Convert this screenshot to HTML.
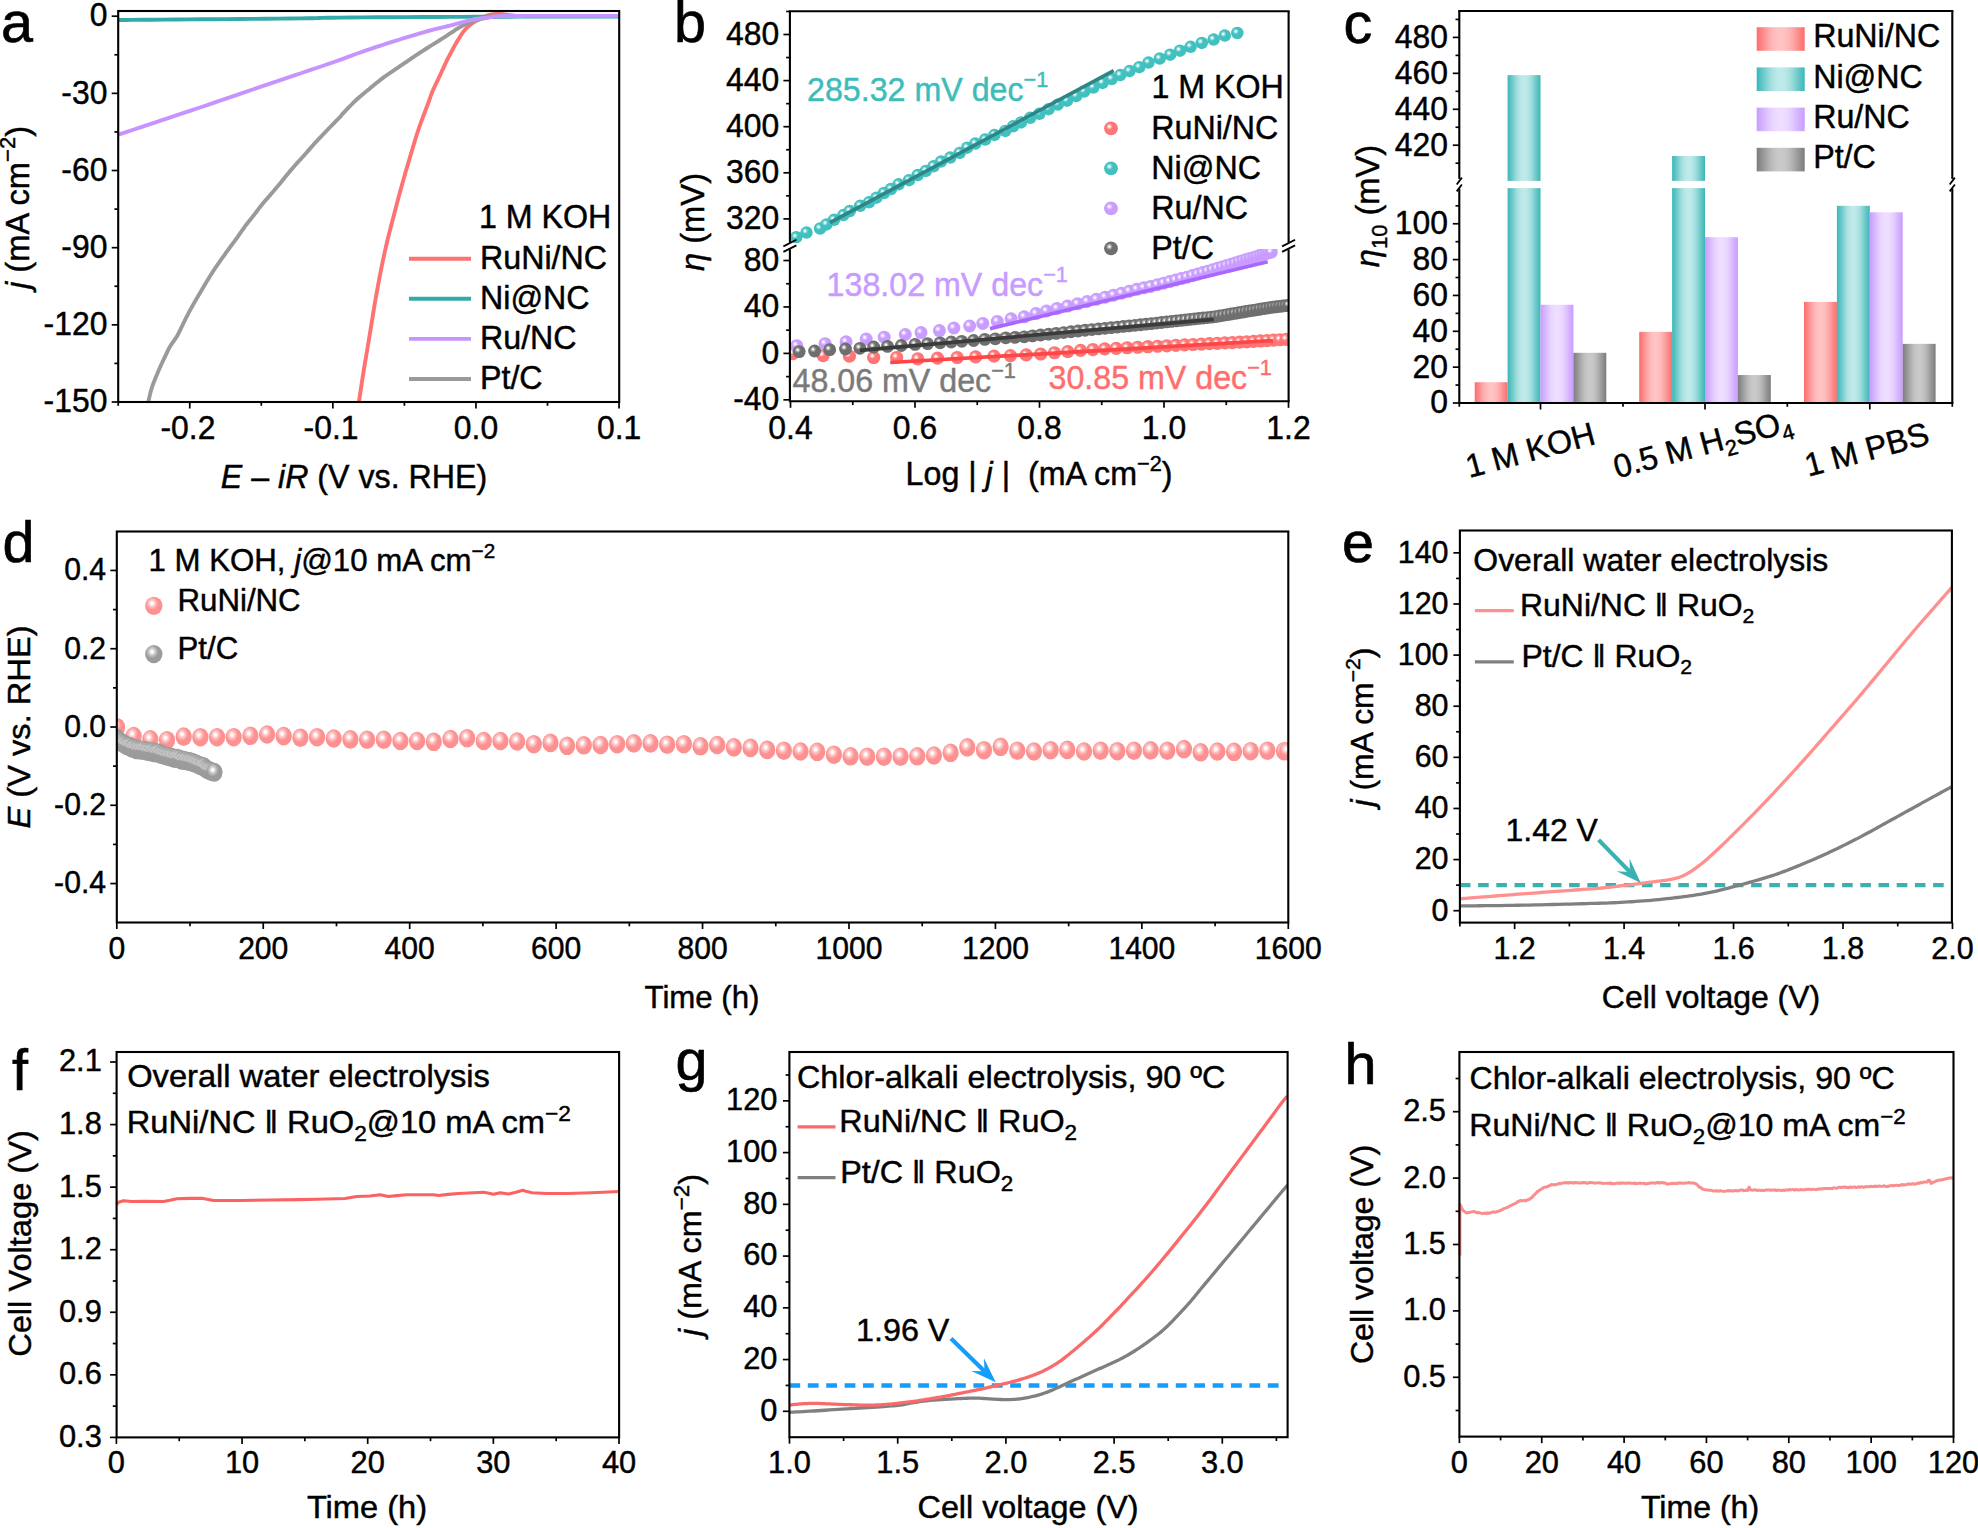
<!DOCTYPE html>
<html lang="en"><head><meta charset="utf-8"><title>Figure</title>
<style>html,body{margin:0;padding:0;background:#fff;}body{width:1978px;height:1528px;overflow:hidden;}svg text{font-family:"Liberation Sans", Arial, Helvetica, sans-serif;}</style>
</head><body>
<svg width="1978" height="1528" viewBox="0 0 1978 1528" font-family='"Liberation Sans", Arial, Helvetica, sans-serif' style="display:block">
<defs>
<radialGradient id="sR" cx="0.38" cy="0.37" r="0.5" fx="0.38" fy="0.37"><stop offset="0" stop-color="#fff"/><stop offset="0.08" stop-color="#fff"/><stop offset="0.25" stop-color="#ffb5b5"/><stop offset="0.5" stop-color="#ff7474"/><stop offset="1" stop-color="#ff7474"/></radialGradient>
<radialGradient id="sT" cx="0.38" cy="0.37" r="0.5" fx="0.38" fy="0.37"><stop offset="0" stop-color="#fff"/><stop offset="0.08" stop-color="#fff"/><stop offset="0.25" stop-color="#9adddd"/><stop offset="0.5" stop-color="#41c0c0"/><stop offset="1" stop-color="#41c0c0"/></radialGradient>
<radialGradient id="sP" cx="0.38" cy="0.37" r="0.5" fx="0.38" fy="0.37"><stop offset="0" stop-color="#fff"/><stop offset="0.08" stop-color="#fff"/><stop offset="0.25" stop-color="#e2caff"/><stop offset="0.5" stop-color="#c99dff"/><stop offset="1" stop-color="#c99dff"/></radialGradient>
<radialGradient id="sG" cx="0.38" cy="0.37" r="0.5" fx="0.38" fy="0.37"><stop offset="0" stop-color="#fff"/><stop offset="0.08" stop-color="#fff"/><stop offset="0.25" stop-color="#b0b0b0"/><stop offset="0.5" stop-color="#6e6e6e"/><stop offset="1" stop-color="#6e6e6e"/></radialGradient>
<radialGradient id="sR2" cx="0.40" cy="0.37" r="0.5" fx="0.40" fy="0.37"><stop offset="0" stop-color="#fff"/><stop offset="0.12" stop-color="#fff"/><stop offset="0.36" stop-color="#fec6c6"/><stop offset="0.72" stop-color="#fd9191"/><stop offset="1" stop-color="#fd9191"/></radialGradient>
<radialGradient id="sG2" cx="0.40" cy="0.37" r="0.5" fx="0.40" fy="0.37"><stop offset="0" stop-color="#fff"/><stop offset="0.12" stop-color="#fff"/><stop offset="0.36" stop-color="#cbcbcb"/><stop offset="0.72" stop-color="#9b9b9b"/><stop offset="1" stop-color="#9b9b9b"/></radialGradient>
<linearGradient id="bR" x1="0" x2="1" y1="0" y2="0"><stop offset="0.00" stop-color="#fa6e6e"/><stop offset="0.08" stop-color="#fb8080"/><stop offset="0.17" stop-color="#fc9595"/><stop offset="0.25" stop-color="#fda8a8"/><stop offset="0.33" stop-color="#feb7b7"/><stop offset="0.42" stop-color="#ffc1c1"/><stop offset="0.50" stop-color="#ffc4c4"/><stop offset="0.58" stop-color="#ffc1c1"/><stop offset="0.67" stop-color="#feb7b7"/><stop offset="0.75" stop-color="#fda8a8"/><stop offset="0.83" stop-color="#fc9595"/><stop offset="0.92" stop-color="#fb8080"/><stop offset="1.00" stop-color="#fa6e6e"/></linearGradient>
<linearGradient id="bT" x1="0" x2="1" y1="0" y2="0"><stop offset="0.00" stop-color="#3cb6b6"/><stop offset="0.08" stop-color="#58c1c1"/><stop offset="0.17" stop-color="#77cdcd"/><stop offset="0.25" stop-color="#95d9d9"/><stop offset="0.33" stop-color="#ace2e2"/><stop offset="0.42" stop-color="#bbe8e8"/><stop offset="0.50" stop-color="#c0eaea"/><stop offset="0.58" stop-color="#bbe8e8"/><stop offset="0.67" stop-color="#ace2e2"/><stop offset="0.75" stop-color="#95d9d9"/><stop offset="0.83" stop-color="#77cdcd"/><stop offset="0.92" stop-color="#58c1c1"/><stop offset="1.00" stop-color="#3cb6b6"/></linearGradient>
<linearGradient id="bP" x1="0" x2="1" y1="0" y2="0"><stop offset="0.00" stop-color="#c89cff"/><stop offset="0.08" stop-color="#d0aaff"/><stop offset="0.17" stop-color="#dabaff"/><stop offset="0.25" stop-color="#e2c9ff"/><stop offset="0.33" stop-color="#e9d5ff"/><stop offset="0.42" stop-color="#eddcff"/><stop offset="0.50" stop-color="#efdfff"/><stop offset="0.58" stop-color="#eddcff"/><stop offset="0.67" stop-color="#e9d5ff"/><stop offset="0.75" stop-color="#e2c9ff"/><stop offset="0.83" stop-color="#dabaff"/><stop offset="0.92" stop-color="#d0aaff"/><stop offset="1.00" stop-color="#c89cff"/></linearGradient>
<linearGradient id="bG" x1="0" x2="1" y1="0" y2="0"><stop offset="0.00" stop-color="#7c7c7c"/><stop offset="0.08" stop-color="#8c8c8c"/><stop offset="0.17" stop-color="#9f9f9f"/><stop offset="0.25" stop-color="#b0b0b0"/><stop offset="0.33" stop-color="#bebebe"/><stop offset="0.42" stop-color="#c7c7c7"/><stop offset="0.50" stop-color="#cacaca"/><stop offset="0.58" stop-color="#c7c7c7"/><stop offset="0.67" stop-color="#bebebe"/><stop offset="0.75" stop-color="#b0b0b0"/><stop offset="0.83" stop-color="#9f9f9f"/><stop offset="0.92" stop-color="#8c8c8c"/><stop offset="1.00" stop-color="#7c7c7c"/></linearGradient>
</defs>
<rect width="1978" height="1528" fill="#fff"/>
<g>
<clipPath id="ca"><rect x="118.2" y="11.0" width="501.00000000000006" height="391.0"/></clipPath>
<g clip-path="url(#ca)">
<polyline points="358.9,402 359.25,399.67 359.72,396.61 360.27,392.98 360.88,388.91 361.54,384.57 362.23,380.1 362.92,375.66 363.6,371.4 364.28,367.2 364.99,362.89 365.73,358.47 366.48,353.99 367.24,349.48 368,344.96 368.76,340.45 369.5,336 370.23,331.56 370.95,327.09 371.68,322.6 372.4,318.12 373.12,313.68 373.85,309.28 374.57,304.94 375.3,300.7 376.03,296.53 376.77,292.39 377.51,288.31 378.24,284.29 378.98,280.33 379.72,276.44 380.46,272.63 381.2,268.9 381.93,265.27 382.66,261.75 383.39,258.31 384.12,254.93 384.85,251.61 385.59,248.32 386.34,245.06 387.1,241.8 387.88,238.55 388.68,235.32 389.49,232.12 390.3,228.96 391.11,225.83 391.92,222.74 392.72,219.69 393.5,216.7 394.26,213.76 395.01,210.88 395.75,208.05 396.48,205.26 397.21,202.49 397.94,199.75 398.67,197.02 399.4,194.3 400.14,191.58 400.88,188.89 401.61,186.21 402.35,183.55 403.09,180.91 403.82,178.29 404.56,175.68 405.3,173.1 406.04,170.54 406.77,168.02 407.5,165.52 408.24,163.03 408.97,160.55 409.71,158.08 410.45,155.6 411.2,153.1 411.96,150.56 412.72,147.99 413.49,145.39 414.26,142.8 415.03,140.24 415.8,137.74 416.56,135.32 417.3,133 418.03,130.8 418.75,128.69 419.47,126.66 420.18,124.69 420.88,122.76 421.58,120.85 422.29,118.93 423,117 423.73,115.02 424.49,112.99 425.25,110.96 426.01,108.95 426.75,107 427.46,105.13 428.11,103.39 428.7,101.8 429.21,100.39 429.64,99.15 430.02,98.02 430.36,96.99 430.69,96 431.03,95.04 431.39,94.05 431.8,93 432.25,91.91 432.72,90.83 433.2,89.74 433.7,88.66 434.2,87.59 434.71,86.52 435.21,85.45 435.7,84.4 436.19,83.36 436.67,82.33 437.16,81.32 437.64,80.31 438.13,79.29 438.62,78.28 439.11,77.25 439.6,76.2 440.1,75.13 440.6,74.05 441.1,72.96 441.6,71.86 442.1,70.76 442.6,69.66 443.1,68.57 443.6,67.5 444.1,66.43 444.59,65.36 445.09,64.28 445.58,63.22 446.07,62.17 446.56,61.15 447.03,60.15 447.5,59.2 447.96,58.3 448.4,57.44 448.83,56.62 449.26,55.82 449.69,55.03 450.12,54.24 450.56,53.43 451,52.6 451.45,51.74 451.91,50.87 452.36,49.99 452.82,49.1 453.29,48.21 453.76,47.33 454.23,46.46 454.7,45.6 455.18,44.75 455.67,43.9 456.17,43.05 456.66,42.21 457.16,41.38 457.65,40.56 458.13,39.77 458.6,39 459.05,38.26 459.49,37.54 459.92,36.83 460.34,36.15 460.76,35.48 461.19,34.81 461.64,34.16 462.1,33.5 462.58,32.84 463.09,32.18 463.6,31.53 464.12,30.89 464.64,30.26 465.17,29.65 465.69,29.06 466.2,28.5 466.7,27.97 467.2,27.46 467.7,26.98 468.2,26.51 468.7,26.06 469.2,25.63 469.7,25.21 470.2,24.8 470.71,24.4 471.22,24.02 471.73,23.66 472.25,23.31 472.77,22.97 473.28,22.64 473.79,22.32 474.3,22 474.8,21.7 475.3,21.41 475.8,21.13 476.3,20.86 476.8,20.59 477.3,20.33 477.8,20.07 478.3,19.8 478.81,19.53 479.32,19.26 479.83,18.99 480.35,18.73 480.87,18.46 481.38,18.2 481.89,17.95 482.4,17.7 482.9,17.46 483.41,17.21 483.91,16.98 484.41,16.74 484.9,16.52 485.4,16.3 485.9,16.09 486.4,15.9 486.9,15.72 487.4,15.54 487.9,15.38 488.39,15.22 488.89,15.08 489.39,14.94 489.9,14.82 490.4,14.7 490.91,14.59 491.42,14.5 491.93,14.41 492.45,14.34 492.97,14.27 493.48,14.21 493.99,14.15 494.5,14.1 495,14.05 495.5,14.01 496,13.97 496.5,13.94 497,13.92 497.5,13.91 498,13.9 498.5,13.9 499.01,13.91 499.52,13.94 500.03,13.97 500.55,14.01 501.07,14.05 501.58,14.1 502.09,14.15 502.6,14.2 503.1,14.25 503.6,14.31 504.1,14.37 504.6,14.43 505.1,14.5 505.6,14.56 506.1,14.63 506.6,14.7 507.11,14.77 507.62,14.85 508.13,14.93 508.65,15.01 509.17,15.09 509.68,15.16 510.19,15.23 510.7,15.3 511.18,15.36 511.63,15.42 512.06,15.47 512.5,15.52 512.96,15.57 513.47,15.61 514.04,15.66 514.7,15.7 514.84,15.74 514.19,15.79 513.25,15.83 512.53,15.87 512.53,15.91 513.78,15.95 516.76,15.98 522,16 530.51,16.01 542.26,16.02 556.14,16.02 571.06,16.02 585.92,16.01 599.63,16.01 611.09,16 619.2,16" fill="none" stroke="#ff7272" stroke-width="3.9" stroke-linejoin="round" stroke-linecap="butt" />
<polyline points="148.3,402 148.55,400.92 148.86,399.5 149.22,397.82 149.64,395.93 150.11,393.92 150.63,391.84 151.2,389.78 151.8,387.8 152.47,385.82 153.23,383.75 154.04,381.62 154.9,379.47 155.77,377.32 156.65,375.23 157.5,373.21 158.3,371.3 159.07,369.51 159.82,367.8 160.56,366.15 161.29,364.56 162.02,363 162.75,361.46 163.47,359.94 164.2,358.4 164.92,356.86 165.63,355.34 166.33,353.84 167.03,352.36 167.73,350.89 168.46,349.44 169.21,348.01 170,346.6 170.83,345.23 171.71,343.89 172.62,342.59 173.54,341.3 174.47,340.01 175.38,338.71 176.26,337.37 177.1,336 177.89,334.58 178.66,333.13 179.4,331.66 180.12,330.17 180.84,328.68 181.55,327.18 182.27,325.68 183,324.2 183.74,322.72 184.47,321.22 185.21,319.72 185.95,318.22 186.69,316.74 187.43,315.27 188.16,313.82 188.9,312.4 189.64,311.01 190.38,309.65 191.11,308.31 191.85,306.99 192.59,305.68 193.33,304.38 194.06,303.09 194.8,301.8 195.54,300.52 196.28,299.26 197.01,298.01 197.75,296.76 198.49,295.52 199.22,294.29 199.96,293.05 200.7,291.8 201.44,290.55 202.18,289.29 202.92,288.02 203.66,286.76 204.39,285.51 205.13,284.26 205.87,283.02 206.6,281.8 207.33,280.59 208.05,279.39 208.78,278.2 209.5,277.02 210.22,275.85 210.95,274.69 211.67,273.54 212.4,272.4 213.13,271.27 213.87,270.15 214.61,269.03 215.34,267.93 216.08,266.84 216.82,265.75 217.56,264.67 218.3,263.6 219.04,262.54 219.78,261.49 220.51,260.45 221.25,259.41 221.99,258.38 222.72,257.36 223.46,256.33 224.2,255.3 224.94,254.27 225.67,253.24 226.41,252.2 227.15,251.18 227.89,250.15 228.62,249.13 229.36,248.11 230.1,247.1 230.81,246.14 231.49,245.24 232.15,244.36 232.83,243.48 233.52,242.56 234.27,241.56 235.09,240.45 236,239.2 237.02,237.76 238.15,236.15 239.34,234.42 240.59,232.62 241.85,230.8 243.11,229.01 244.34,227.29 245.5,225.7 246.61,224.23 247.69,222.84 248.76,221.5 249.81,220.21 250.85,218.93 251.89,217.64 252.94,216.34 254,215 255.07,213.61 256.15,212.2 257.22,210.78 258.3,209.34 259.38,207.92 260.45,206.51 261.53,205.14 262.6,203.8 263.67,202.51 264.73,201.26 265.79,200.03 266.86,198.83 267.92,197.63 268.98,196.43 270.04,195.23 271.1,194 272.16,192.76 273.23,191.53 274.29,190.29 275.35,189.05 276.41,187.8 277.48,186.55 278.54,185.28 279.6,184 280.66,182.7 281.73,181.37 282.79,180.03 283.85,178.69 284.91,177.34 285.98,176.01 287.04,174.69 288.1,173.4 289.16,172.13 290.23,170.88 291.29,169.64 292.35,168.42 293.41,167.2 294.48,166 295.54,164.8 296.6,163.6 297.66,162.42 298.73,161.25 299.79,160.1 300.85,158.95 301.91,157.8 302.98,156.65 304.04,155.48 305.1,154.3 306.16,153.09 307.23,151.87 308.29,150.63 309.35,149.38 310.41,148.14 311.48,146.91 312.54,145.69 313.6,144.5 314.66,143.34 315.73,142.19 316.79,141.06 317.85,139.94 318.91,138.83 319.98,137.72 321.04,136.61 322.1,135.5 323.16,134.39 324.2,133.28 325.25,132.19 326.29,131.09 327.35,129.98 328.41,128.87 329.49,127.75 330.6,126.6 331.77,125.39 333.03,124.11 334.34,122.79 335.64,121.47 336.9,120.2 338.07,119 339.12,117.92 340,117 340.62,116.32 340.98,115.89 341.18,115.6 341.32,115.38 341.48,115.13 341.77,114.76 342.28,114.18 343.1,113.3 344.26,112.08 345.67,110.6 347.28,108.92 349.03,107.11 350.85,105.25 352.69,103.4 354.49,101.62 356.2,100 357.84,98.5 359.48,97.06 361.12,95.65 362.76,94.28 364.39,92.92 366.03,91.58 367.67,90.24 369.3,88.9 370.93,87.55 372.55,86.2 374.18,84.86 375.8,83.53 377.42,82.21 379.05,80.91 380.67,79.64 382.3,78.4 383.93,77.19 385.57,76.02 387.21,74.88 388.84,73.75 390.48,72.64 392.12,71.53 393.76,70.42 395.4,69.3 397.04,68.18 398.67,67.06 400.31,65.94 401.95,64.83 403.59,63.72 405.22,62.61 406.86,61.51 408.5,60.4 410.14,59.29 411.77,58.18 413.41,57.07 415.05,55.96 416.69,54.85 418.32,53.76 419.96,52.67 421.6,51.6 423.24,50.55 424.88,49.51 426.51,48.49 428.15,47.48 429.79,46.46 431.43,45.45 433.06,44.43 434.7,43.4 436.34,42.36 437.99,41.3 439.65,40.25 441.3,39.19 442.95,38.13 444.58,37.08 446.2,36.03 447.8,35 449.39,33.96 450.98,32.89 452.57,31.82 454.14,30.76 455.68,29.73 457.2,28.75 458.67,27.83 460.1,27 461.47,26.25 462.78,25.58 464.05,24.96 465.29,24.4 466.51,23.87 467.73,23.37 468.95,22.88 470.2,22.4 471.46,21.93 472.72,21.48 473.99,21.05 475.25,20.64 476.51,20.26 477.77,19.89 479.04,19.54 480.3,19.2 481.55,18.88 482.79,18.57 484.03,18.28 485.27,18.01 486.52,17.76 487.78,17.52 489.08,17.3 490.4,17.1 491.72,16.92 493,16.75 494.28,16.6 495.59,16.48 496.97,16.36 498.44,16.26 500.04,16.17 501.8,16.1 503.2,16.04 503.97,16.01 504.57,15.99 505.41,15.99 506.94,15.99 509.6,16 513.8,16 520,16 529.2,16 541.43,15.99 555.63,15.99 570.74,15.99 585.71,16 599.48,16 610.99,16 619.2,16" fill="none" stroke="#9a9a9a" stroke-width="3.9" stroke-linejoin="round" stroke-linecap="butt" />
<polyline points="118.2,20 124.39,19.95 132.47,19.88 142.08,19.8 152.85,19.71 164.4,19.61 176.35,19.51 188.34,19.4 200,19.3 212.04,19.2 225.13,19.09 238.8,18.97 252.61,18.86 266.09,18.74 278.79,18.62 290.25,18.51 300,18.4 307.39,18.29 312.58,18.19 316.32,18.09 319.38,17.99 322.51,17.89 326.48,17.79 332.06,17.69 340,17.6 350.54,17.5 363.05,17.41 377,17.31 391.88,17.22 407.14,17.13 422.27,17.04 436.73,16.97 450,16.9 462.28,16.84 474.16,16.79 485.69,16.75 496.93,16.71 507.92,16.68 518.73,16.65 529.4,16.63 540,16.6 550.96,16.58 562.42,16.56 573.97,16.54 585.23,16.53 595.78,16.52 605.22,16.51 613.16,16.51 619.2,16.5" fill="none" stroke="#33a9a9" stroke-width="3.9" stroke-linejoin="round" stroke-linecap="butt" />
<polyline points="118.2,134.7 124.59,132.58 133.18,129.74 143.4,126.35 154.72,122.59 166.59,118.65 178.46,114.71 189.78,110.93 200,107.5 209.38,104.33 218.56,101.21 227.55,98.13 236.36,95.11 245,92.15 253.48,89.24 261.81,86.39 270,83.6 278.17,80.84 286.34,78.09 294.43,75.38 302.33,72.74 309.94,70.2 317.15,67.77 323.87,65.5 330,63.4 335.39,61.52 340.09,59.84 344.26,58.32 348.06,56.91 351.64,55.58 355.16,54.28 358.8,52.97 362.7,51.6 366.79,50.2 370.88,48.81 374.96,47.43 379.05,46.08 383.14,44.73 387.22,43.41 391.31,42.1 395.4,40.8 399.56,39.5 403.83,38.18 408.14,36.86 412.43,35.56 416.63,34.31 420.68,33.12 424.53,32.01 428.1,31 431.37,30.11 434.37,29.34 437.18,28.65 439.83,28.03 442.39,27.43 444.9,26.85 447.42,26.24 450,25.6 452.68,24.9 455.41,24.17 458.14,23.42 460.84,22.68 463.44,21.96 465.9,21.3 468.17,20.7 470.2,20.2 471.95,19.8 473.44,19.49 474.73,19.24 475.88,19.04 476.96,18.88 478.01,18.73 479.11,18.58 480.3,18.4 481.55,18.21 482.78,18.03 484,17.86 485.22,17.7 486.46,17.54 487.73,17.39 489.04,17.24 490.4,17.1 491.65,16.96 492.71,16.81 493.71,16.67 494.79,16.53 496.09,16.4 497.73,16.29 499.85,16.18 502.6,16.1 505.78,16.04 509.2,15.99 512.94,15.96 517.11,15.94 521.81,15.93 527.12,15.92 533.15,15.91 540,15.9 548.44,15.89 558.72,15.89 570.12,15.89 581.94,15.89 593.46,15.89 603.99,15.9 612.8,15.9 619.2,15.9" fill="none" stroke="#c693ff" stroke-width="3.9" stroke-linejoin="round" stroke-linecap="butt" />
</g>
<rect x="118.2" y="11" width="501" height="391" fill="none" stroke="#000" stroke-width="2.1"/>
<line x1="118.2" y1="16.2" x2="111.7" y2="16.2" stroke="#000" stroke-width="1.7" />
<line x1="118.2" y1="93.36" x2="111.7" y2="93.36" stroke="#000" stroke-width="1.7" />
<line x1="118.2" y1="170.52" x2="111.7" y2="170.52" stroke="#000" stroke-width="1.7" />
<line x1="118.2" y1="247.68" x2="111.7" y2="247.68" stroke="#000" stroke-width="1.7" />
<line x1="118.2" y1="324.84" x2="111.7" y2="324.84" stroke="#000" stroke-width="1.7" />
<line x1="118.2" y1="402" x2="111.7" y2="402" stroke="#000" stroke-width="1.7" />
<line x1="118.2" y1="54.78" x2="114.4" y2="54.78" stroke="#000" stroke-width="1.7" />
<line x1="118.2" y1="131.94" x2="114.4" y2="131.94" stroke="#000" stroke-width="1.7" />
<line x1="118.2" y1="209.1" x2="114.4" y2="209.1" stroke="#000" stroke-width="1.7" />
<line x1="118.2" y1="286.26" x2="114.4" y2="286.26" stroke="#000" stroke-width="1.7" />
<line x1="118.2" y1="363.42" x2="114.4" y2="363.42" stroke="#000" stroke-width="1.7" />
<line x1="189.75" y1="402" x2="189.75" y2="408.5" stroke="#000" stroke-width="1.7" />
<line x1="332.85" y1="402" x2="332.85" y2="408.5" stroke="#000" stroke-width="1.7" />
<line x1="475.95" y1="402" x2="475.95" y2="408.5" stroke="#000" stroke-width="1.7" />
<line x1="619.05" y1="402" x2="619.05" y2="408.5" stroke="#000" stroke-width="1.7" />
<line x1="118.2" y1="402" x2="118.2" y2="405.8" stroke="#000" stroke-width="1.7" />
<line x1="261.3" y1="402" x2="261.3" y2="405.8" stroke="#000" stroke-width="1.7" />
<line x1="404.4" y1="402" x2="404.4" y2="405.8" stroke="#000" stroke-width="1.7" />
<line x1="547.5" y1="402" x2="547.5" y2="405.8" stroke="#000" stroke-width="1.7" />
<text transform="translate(107.4 25.6) scale(0.96 1)" font-size="33.2" text-anchor="end" fill="#000" stroke="#000" stroke-width="0.45" >0</text>
<text transform="translate(107.4 103.76) scale(0.96 1)" font-size="33.2" text-anchor="end" fill="#000" stroke="#000" stroke-width="0.45" >-30</text>
<text transform="translate(107.4 180.92) scale(0.96 1)" font-size="33.2" text-anchor="end" fill="#000" stroke="#000" stroke-width="0.45" >-60</text>
<text transform="translate(107.4 258.08) scale(0.96 1)" font-size="33.2" text-anchor="end" fill="#000" stroke="#000" stroke-width="0.45" >-90</text>
<text transform="translate(107.4 335.24) scale(0.96 1)" font-size="33.2" text-anchor="end" fill="#000" stroke="#000" stroke-width="0.45" >-120</text>
<text transform="translate(107.4 412.4) scale(0.96 1)" font-size="33.2" text-anchor="end" fill="#000" stroke="#000" stroke-width="0.45" >-150</text>
<text transform="translate(187.95 438.5) scale(0.96 1)" font-size="33.2" text-anchor="middle" fill="#000" stroke="#000" stroke-width="0.45" >-0.2</text>
<text transform="translate(331.05 438.5) scale(0.96 1)" font-size="33.2" text-anchor="middle" fill="#000" stroke="#000" stroke-width="0.45" >-0.1</text>
<text transform="translate(475.95 438.5) scale(0.96 1)" font-size="33.2" text-anchor="middle" fill="#000" stroke="#000" stroke-width="0.45" >0.0</text>
<text transform="translate(619.05 438.5) scale(0.96 1)" font-size="33.2" text-anchor="middle" fill="#000" stroke="#000" stroke-width="0.45" >0.1</text>
<text transform="translate(354 487.5) scale(0.985 1)" font-size="32.7" text-anchor="middle" fill="#000" stroke="#000" stroke-width="0.45" ><tspan font-style="italic">E</tspan> – <tspan font-style="italic">iR</tspan> (V vs. RHE)</text>
<text transform="translate(29 207.5) rotate(-90)" font-size="32.7" text-anchor="middle" fill="#000" stroke="#000" stroke-width="0.45" ><tspan font-style="italic">j</tspan> (mA cm<tspan font-size="22" dy="-14">−2</tspan><tspan dy="14" font-size="1">&#8203;</tspan>)</text>
<text x="1" y="42" font-size="57.5" fill="#000" stroke="#000" stroke-width="0.65">a</text>
<text transform="translate(479 227.9) scale(0.985 1)" font-size="32.7" text-anchor="start" fill="#000" stroke="#000" stroke-width="0.45" >1 M KOH</text>
<line x1="409" y1="258.7" x2="471" y2="258.7" stroke="#ff7272" stroke-width="3.9" />
<text transform="translate(480 269) scale(0.985 1)" font-size="32.7" text-anchor="start" fill="#000" stroke="#000" stroke-width="0.45" >RuNi/NC</text>
<line x1="409" y1="298.8" x2="471" y2="298.8" stroke="#33a9a9" stroke-width="3.9" />
<text transform="translate(480 309.1) scale(0.985 1)" font-size="32.7" text-anchor="start" fill="#000" stroke="#000" stroke-width="0.45" >Ni@NC</text>
<line x1="409" y1="338.9" x2="471" y2="338.9" stroke="#c693ff" stroke-width="3.9" />
<text transform="translate(480 349.2) scale(0.985 1)" font-size="32.7" text-anchor="start" fill="#000" stroke="#000" stroke-width="0.45" >Ru/NC</text>
<line x1="409" y1="379" x2="471" y2="379" stroke="#9a9a9a" stroke-width="3.9" />
<text transform="translate(480 389.3) scale(0.985 1)" font-size="32.7" text-anchor="start" fill="#000" stroke="#000" stroke-width="0.45" >Pt/C</text>
</g>
<g>
<clipPath id="cbU"><rect x="789.9" y="11.2" width="498.69999999999993" height="231.70000000000002"/></clipPath>
<clipPath id="cbL"><rect x="789.9" y="249.1" width="498.69999999999993" height="152.20000000000002"/></clipPath>
<g clip-path="url(#cbU)">
<circle cx="796.3" cy="237.2" r="6.25" fill="url(#sT)"/>
<circle cx="806.5" cy="232.6" r="6.25" fill="url(#sT)"/>
<circle cx="820.1" cy="228.5" r="6.25" fill="url(#sT)"/>
<circle cx="826.5" cy="224.4" r="6.25" fill="url(#sT)"/>
<circle cx="834" cy="219.8" r="6.25" fill="url(#sT)"/>
<circle cx="843.4" cy="215.1" r="6.25" fill="url(#sT)"/>
<circle cx="849.8" cy="211" r="6.25" fill="url(#sT)"/>
<circle cx="860.2" cy="205.8" r="6.25" fill="url(#sT)"/>
<circle cx="869" cy="202.3" r="6.25" fill="url(#sT)"/>
<circle cx="876.5" cy="197.7" r="6.25" fill="url(#sT)"/>
<circle cx="884" cy="193" r="6.25" fill="url(#sT)"/>
<circle cx="891" cy="189" r="6.25" fill="url(#sT)"/>
<circle cx="898.6" cy="184.3" r="6.25" fill="url(#sT)"/>
<circle cx="909" cy="180.2" r="6.25" fill="url(#sT)"/>
<circle cx="917.8" cy="175" r="6.25" fill="url(#sT)"/>
<circle cx="925.9" cy="170.9" r="6.25" fill="url(#sT)"/>
<circle cx="933.5" cy="166.3" r="6.25" fill="url(#sT)"/>
<circle cx="941" cy="161.6" r="6.25" fill="url(#sT)"/>
<circle cx="950.3" cy="157.6" r="6.25" fill="url(#sT)"/>
<circle cx="959.7" cy="152.9" r="6.25" fill="url(#sT)"/>
<circle cx="967.2" cy="147.7" r="6.25" fill="url(#sT)"/>
<circle cx="975.3" cy="143.6" r="6.25" fill="url(#sT)"/>
<circle cx="985.2" cy="139.5" r="6.25" fill="url(#sT)"/>
<circle cx="994.5" cy="134.9" r="6.25" fill="url(#sT)"/>
<circle cx="1005.3" cy="130.9" r="6.25" fill="url(#sT)"/>
<circle cx="1013.1" cy="126.3" r="6.25" fill="url(#sT)"/>
<circle cx="1021" cy="122.4" r="6.25" fill="url(#sT)"/>
<circle cx="1030.2" cy="117.8" r="6.25" fill="url(#sT)"/>
<circle cx="1039.4" cy="113.8" r="6.25" fill="url(#sT)"/>
<circle cx="1048.6" cy="109.2" r="6.25" fill="url(#sT)"/>
<circle cx="1057.8" cy="104.6" r="6.25" fill="url(#sT)"/>
<circle cx="1067" cy="100.7" r="6.25" fill="url(#sT)"/>
<circle cx="1076.2" cy="96.1" r="6.25" fill="url(#sT)"/>
<circle cx="1084.1" cy="91.5" r="6.25" fill="url(#sT)"/>
<circle cx="1093.3" cy="87.5" r="6.25" fill="url(#sT)"/>
<circle cx="1102.5" cy="82.9" r="6.25" fill="url(#sT)"/>
<circle cx="1111.7" cy="79" r="6.25" fill="url(#sT)"/>
<circle cx="1120.3" cy="75.1" r="6.25" fill="url(#sT)"/>
<circle cx="1129.5" cy="71.1" r="6.25" fill="url(#sT)"/>
<circle cx="1139.3" cy="67.2" r="6.25" fill="url(#sT)"/>
<circle cx="1148.5" cy="62.6" r="6.25" fill="url(#sT)"/>
<circle cx="1159.7" cy="58.6" r="6.25" fill="url(#sT)"/>
<circle cx="1170.2" cy="54.7" r="6.25" fill="url(#sT)"/>
<circle cx="1180" cy="50.7" r="6.25" fill="url(#sT)"/>
<circle cx="1190.6" cy="46.8" r="6.25" fill="url(#sT)"/>
<circle cx="1201.8" cy="42.9" r="6.25" fill="url(#sT)"/>
<circle cx="1213.6" cy="39.6" r="6.25" fill="url(#sT)"/>
<circle cx="1224.8" cy="35.6" r="6.25" fill="url(#sT)"/>
<circle cx="1237.3" cy="33" r="6.25" fill="url(#sT)"/>
<line x1="830" y1="222.7" x2="1113.7" y2="70.7" stroke="#2f8686" stroke-width="3.6" />
</g>
<g clip-path="url(#cbL)">
<circle cx="792.9" cy="353.6" r="6.6" fill="url(#sR)"/>
<circle cx="823.1" cy="355.6" r="6.6" fill="url(#sR)"/>
<circle cx="849.4" cy="356.2" r="6.6" fill="url(#sR)"/>
<circle cx="873.7" cy="357.5" r="6.6" fill="url(#sR)"/>
<circle cx="896.7" cy="357.5" r="6.6" fill="url(#sR)"/>
<circle cx="917.8" cy="358.9" r="6.6" fill="url(#sR)"/>
<circle cx="937.5" cy="358.2" r="6.6" fill="url(#sR)"/>
<circle cx="957.2" cy="357.5" r="6.6" fill="url(#sR)"/>
<circle cx="975.6" cy="356.9" r="6.6" fill="url(#sR)"/>
<circle cx="994" cy="356.2" r="6.6" fill="url(#sR)"/>
<circle cx="1010.4" cy="355.6" r="6.6" fill="url(#sR)"/>
<circle cx="1026.2" cy="354.9" r="6.6" fill="url(#sR)"/>
<circle cx="1040.7" cy="354" r="6.6" fill="url(#sR)"/>
<circle cx="1054.5" cy="352.76" r="6.6" fill="url(#sR)"/>
<circle cx="1067.78" cy="351.58" r="6.6" fill="url(#sR)"/>
<circle cx="1080.58" cy="350.43" r="6.6" fill="url(#sR)"/>
<circle cx="1092.92" cy="349.53" r="6.6" fill="url(#sR)"/>
<circle cx="1104.8" cy="348.92" r="6.6" fill="url(#sR)"/>
<circle cx="1116.22" cy="348.33" r="6.6" fill="url(#sR)"/>
<circle cx="1127.18" cy="347.77" r="6.6" fill="url(#sR)"/>
<circle cx="1137.72" cy="347.23" r="6.6" fill="url(#sR)"/>
<circle cx="1147.83" cy="346.72" r="6.6" fill="url(#sR)"/>
<circle cx="1157.55" cy="346.24" r="6.6" fill="url(#sR)"/>
<circle cx="1166.88" cy="345.78" r="6.6" fill="url(#sR)"/>
<circle cx="1175.86" cy="345.33" r="6.6" fill="url(#sR)"/>
<circle cx="1184.6" cy="344.9" r="6.6" fill="url(#sR)"/>
<circle cx="1193.1" cy="344.48" r="6.6" fill="url(#sR)"/>
<circle cx="1201.38" cy="344.07" r="6.6" fill="url(#sR)"/>
<circle cx="1209.44" cy="343.67" r="6.6" fill="url(#sR)"/>
<circle cx="1217.29" cy="343.28" r="6.6" fill="url(#sR)"/>
<circle cx="1224.93" cy="342.91" r="6.6" fill="url(#sR)"/>
<circle cx="1232.36" cy="342.54" r="6.6" fill="url(#sR)"/>
<circle cx="1239.61" cy="342.18" r="6.6" fill="url(#sR)"/>
<circle cx="1246.7" cy="341.81" r="6.6" fill="url(#sR)"/>
<circle cx="1253.64" cy="341.38" r="6.6" fill="url(#sR)"/>
<circle cx="1260.43" cy="340.96" r="6.6" fill="url(#sR)"/>
<circle cx="1267.07" cy="340.55" r="6.6" fill="url(#sR)"/>
<circle cx="1273.57" cy="340.14" r="6.6" fill="url(#sR)"/>
<circle cx="1279.92" cy="339.75" r="6.6" fill="url(#sR)"/>
<circle cx="1286.14" cy="339.36" r="6.6" fill="url(#sR)"/>
<circle cx="796.8" cy="345.7" r="6.5" fill="url(#sP)"/>
<circle cx="825.1" cy="343.7" r="6.5" fill="url(#sP)"/>
<circle cx="846.1" cy="341.8" r="6.5" fill="url(#sP)"/>
<circle cx="866.2" cy="339.1" r="6.5" fill="url(#sP)"/>
<circle cx="884.2" cy="337.2" r="6.5" fill="url(#sP)"/>
<circle cx="905.3" cy="334.5" r="6.5" fill="url(#sP)"/>
<circle cx="921" cy="332.6" r="6.5" fill="url(#sP)"/>
<circle cx="939.4" cy="330.6" r="6.5" fill="url(#sP)"/>
<circle cx="953.9" cy="328" r="6.5" fill="url(#sP)"/>
<circle cx="969.7" cy="326" r="6.5" fill="url(#sP)"/>
<circle cx="982.8" cy="323.4" r="6.5" fill="url(#sP)"/>
<circle cx="997.3" cy="321.4" r="6.5" fill="url(#sP)"/>
<circle cx="1011.1" cy="318.8" r="6.5" fill="url(#sP)"/>
<circle cx="1024.2" cy="316.8" r="6.5" fill="url(#sP)"/>
<circle cx="1036" cy="313.6" r="6.5" fill="url(#sP)"/>
<circle cx="1046.5" cy="311.01" r="6.5" fill="url(#sP)"/>
<circle cx="1057" cy="308.42" r="6.5" fill="url(#sP)"/>
<circle cx="1067.5" cy="306.06" r="6.5" fill="url(#sP)"/>
<circle cx="1077.58" cy="303.81" r="6.5" fill="url(#sP)"/>
<circle cx="1087.2" cy="301.52" r="6.5" fill="url(#sP)"/>
<circle cx="1096.4" cy="299.28" r="6.5" fill="url(#sP)"/>
<circle cx="1105.18" cy="297.16" r="6.5" fill="url(#sP)"/>
<circle cx="1113.58" cy="295.16" r="6.5" fill="url(#sP)"/>
<circle cx="1121.6" cy="293.21" r="6.5" fill="url(#sP)"/>
<circle cx="1129.3" cy="291.23" r="6.5" fill="url(#sP)"/>
<circle cx="1136.72" cy="289.32" r="6.5" fill="url(#sP)"/>
<circle cx="1143.84" cy="287.85" r="6.5" fill="url(#sP)"/>
<circle cx="1150.69" cy="286.42" r="6.5" fill="url(#sP)"/>
<circle cx="1157.28" cy="284.74" r="6.5" fill="url(#sP)"/>
<circle cx="1163.62" cy="283.13" r="6.5" fill="url(#sP)"/>
<circle cx="1169.71" cy="281.57" r="6.5" fill="url(#sP)"/>
<circle cx="1175.61" cy="280.06" r="6.5" fill="url(#sP)"/>
<circle cx="1181.36" cy="278.58" r="6.5" fill="url(#sP)"/>
<circle cx="1186.95" cy="277.14" r="6.5" fill="url(#sP)"/>
<circle cx="1192.4" cy="275.61" r="6.5" fill="url(#sP)"/>
<circle cx="1197.7" cy="274.09" r="6.5" fill="url(#sP)"/>
<circle cx="1202.86" cy="272.61" r="6.5" fill="url(#sP)"/>
<circle cx="1207.89" cy="271.14" r="6.5" fill="url(#sP)"/>
<circle cx="1212.78" cy="269.68" r="6.5" fill="url(#sP)"/>
<circle cx="1217.55" cy="268.26" r="6.5" fill="url(#sP)"/>
<circle cx="1222.19" cy="266.88" r="6.5" fill="url(#sP)"/>
<circle cx="1226.66" cy="265.54" r="6.5" fill="url(#sP)"/>
<circle cx="1230.97" cy="264.24" r="6.5" fill="url(#sP)"/>
<circle cx="1235.11" cy="262.99" r="6.5" fill="url(#sP)"/>
<circle cx="1239.09" cy="261.79" r="6.5" fill="url(#sP)"/>
<circle cx="1242.92" cy="260.63" r="6.5" fill="url(#sP)"/>
<circle cx="1246.6" cy="259.52" r="6.5" fill="url(#sP)"/>
<circle cx="1250.14" cy="258.44" r="6.5" fill="url(#sP)"/>
<circle cx="1253.54" cy="257.41" r="6.5" fill="url(#sP)"/>
<circle cx="1256.81" cy="256.41" r="6.5" fill="url(#sP)"/>
<circle cx="1259.96" cy="255.41" r="6.5" fill="url(#sP)"/>
<circle cx="1262.97" cy="254.45" r="6.5" fill="url(#sP)"/>
<circle cx="1265.86" cy="253.56" r="6.5" fill="url(#sP)"/>
<circle cx="1268.63" cy="252.79" r="6.5" fill="url(#sP)"/>
<circle cx="1271.28" cy="252.05" r="6.5" fill="url(#sP)"/>
<circle cx="799.2" cy="351.6" r="6.4" fill="url(#sG)"/>
<circle cx="814.6" cy="351" r="6.4" fill="url(#sG)"/>
<circle cx="829.7" cy="349.7" r="6.4" fill="url(#sG)"/>
<circle cx="845.5" cy="349" r="6.4" fill="url(#sG)"/>
<circle cx="859.9" cy="348.3" r="6.4" fill="url(#sG)"/>
<circle cx="873.7" cy="347" r="6.4" fill="url(#sG)"/>
<circle cx="887.5" cy="346.4" r="6.4" fill="url(#sG)"/>
<circle cx="901.3" cy="345.5" r="6.4" fill="url(#sG)"/>
<circle cx="915.1" cy="344.4" r="6.4" fill="url(#sG)"/>
<circle cx="927.6" cy="343.7" r="6.4" fill="url(#sG)"/>
<circle cx="940.1" cy="342.8" r="6.4" fill="url(#sG)"/>
<circle cx="951.3" cy="342" r="6.4" fill="url(#sG)"/>
<circle cx="961.8" cy="341.3" r="6.4" fill="url(#sG)"/>
<circle cx="973.6" cy="340.5" r="6.4" fill="url(#sG)"/>
<circle cx="984.8" cy="339.4" r="6.4" fill="url(#sG)"/>
<circle cx="995.3" cy="338.8" r="6.4" fill="url(#sG)"/>
<circle cx="1005.8" cy="337.8" r="6.4" fill="url(#sG)"/>
<circle cx="1015" cy="337.4" r="6.4" fill="url(#sG)"/>
<circle cx="1024.2" cy="336.8" r="6.4" fill="url(#sG)"/>
<circle cx="1032.5" cy="335.88" r="6.4" fill="url(#sG)"/>
<circle cx="1040.59" cy="335.01" r="6.4" fill="url(#sG)"/>
<circle cx="1048.47" cy="334.17" r="6.4" fill="url(#sG)"/>
<circle cx="1056.16" cy="333.35" r="6.4" fill="url(#sG)"/>
<circle cx="1063.66" cy="332.55" r="6.4" fill="url(#sG)"/>
<circle cx="1070.97" cy="331.77" r="6.4" fill="url(#sG)"/>
<circle cx="1078.09" cy="331.01" r="6.4" fill="url(#sG)"/>
<circle cx="1085.04" cy="330.27" r="6.4" fill="url(#sG)"/>
<circle cx="1091.81" cy="329.58" r="6.4" fill="url(#sG)"/>
<circle cx="1098.42" cy="328.93" r="6.4" fill="url(#sG)"/>
<circle cx="1104.86" cy="328.29" r="6.4" fill="url(#sG)"/>
<circle cx="1111.14" cy="327.67" r="6.4" fill="url(#sG)"/>
<circle cx="1117.28" cy="327.07" r="6.4" fill="url(#sG)"/>
<circle cx="1123.28" cy="326.47" r="6.4" fill="url(#sG)"/>
<circle cx="1129.14" cy="325.89" r="6.4" fill="url(#sG)"/>
<circle cx="1134.86" cy="325.33" r="6.4" fill="url(#sG)"/>
<circle cx="1140.44" cy="324.77" r="6.4" fill="url(#sG)"/>
<circle cx="1145.9" cy="324.18" r="6.4" fill="url(#sG)"/>
<circle cx="1151.23" cy="323.6" r="6.4" fill="url(#sG)"/>
<circle cx="1156.43" cy="323.04" r="6.4" fill="url(#sG)"/>
<circle cx="1161.52" cy="322.49" r="6.4" fill="url(#sG)"/>
<circle cx="1166.49" cy="321.95" r="6.4" fill="url(#sG)"/>
<circle cx="1171.37" cy="321.42" r="6.4" fill="url(#sG)"/>
<circle cx="1176.16" cy="320.9" r="6.4" fill="url(#sG)"/>
<circle cx="1180.87" cy="320.38" r="6.4" fill="url(#sG)"/>
<circle cx="1185.48" cy="319.88" r="6.4" fill="url(#sG)"/>
<circle cx="1190.02" cy="319.39" r="6.4" fill="url(#sG)"/>
<circle cx="1194.47" cy="318.92" r="6.4" fill="url(#sG)"/>
<circle cx="1198.83" cy="318.46" r="6.4" fill="url(#sG)"/>
<circle cx="1203.12" cy="318.01" r="6.4" fill="url(#sG)"/>
<circle cx="1207.33" cy="317.57" r="6.4" fill="url(#sG)"/>
<circle cx="1211.46" cy="317.14" r="6.4" fill="url(#sG)"/>
<circle cx="1215.52" cy="316.61" r="6.4" fill="url(#sG)"/>
<circle cx="1219.5" cy="315.94" r="6.4" fill="url(#sG)"/>
<circle cx="1223.41" cy="315.28" r="6.4" fill="url(#sG)"/>
<circle cx="1227.27" cy="314.63" r="6.4" fill="url(#sG)"/>
<circle cx="1231.07" cy="313.99" r="6.4" fill="url(#sG)"/>
<circle cx="1234.83" cy="313.36" r="6.4" fill="url(#sG)"/>
<circle cx="1238.54" cy="312.74" r="6.4" fill="url(#sG)"/>
<circle cx="1242.2" cy="312.12" r="6.4" fill="url(#sG)"/>
<circle cx="1245.82" cy="311.52" r="6.4" fill="url(#sG)"/>
<circle cx="1249.39" cy="310.93" r="6.4" fill="url(#sG)"/>
<circle cx="1252.91" cy="310.36" r="6.4" fill="url(#sG)"/>
<circle cx="1256.38" cy="309.79" r="6.4" fill="url(#sG)"/>
<circle cx="1259.82" cy="309.23" r="6.4" fill="url(#sG)"/>
<circle cx="1263.2" cy="308.67" r="6.4" fill="url(#sG)"/>
<circle cx="1266.55" cy="308.13" r="6.4" fill="url(#sG)"/>
<circle cx="1269.85" cy="307.59" r="6.4" fill="url(#sG)"/>
<circle cx="1273.11" cy="307.12" r="6.4" fill="url(#sG)"/>
<circle cx="1276.33" cy="306.75" r="6.4" fill="url(#sG)"/>
<circle cx="1279.5" cy="306.38" r="6.4" fill="url(#sG)"/>
<circle cx="1282.64" cy="306.01" r="6.4" fill="url(#sG)"/>
<circle cx="1285.73" cy="305.65" r="6.4" fill="url(#sG)"/>
<circle cx="1288.79" cy="305.3" r="6.4" fill="url(#sG)"/>
<line x1="890.2" y1="362.5" x2="1272.9" y2="340.6" stroke="#ff4646" stroke-width="3.7" />
<line x1="990" y1="328.6" x2="1267.7" y2="261.7" stroke="#a868ff" stroke-width="3.7" />
<line x1="859.9" y1="350.4" x2="1213.8" y2="319.4" stroke="#3b3b3b" stroke-width="3.7" />
</g>
<line x1="788.85" y1="11.2" x2="1289.65" y2="11.2" stroke="#000" stroke-width="2.1" />
<line x1="788.85" y1="401.3" x2="1289.65" y2="401.3" stroke="#000" stroke-width="2.1" />
<line x1="789.9" y1="11.2" x2="789.9" y2="242.4" stroke="#000" stroke-width="2.1" />
<line x1="789.9" y1="249.3" x2="789.9" y2="401.3" stroke="#000" stroke-width="2.1" />
<line x1="783.4" y1="246.35" x2="796.4" y2="239.75" stroke="#000" stroke-width="1.9" />
<line x1="783.4" y1="251.95" x2="796.4" y2="245.35" stroke="#000" stroke-width="1.9" />
<line x1="1288.6" y1="11.2" x2="1288.6" y2="242.4" stroke="#000" stroke-width="2.1" />
<line x1="1288.6" y1="249.3" x2="1288.6" y2="401.3" stroke="#000" stroke-width="2.1" />
<line x1="1282.1" y1="246.35" x2="1295.1" y2="239.75" stroke="#000" stroke-width="1.9" />
<line x1="1282.1" y1="251.95" x2="1295.1" y2="245.35" stroke="#000" stroke-width="1.9" />
<line x1="789.9" y1="34.5" x2="783.4" y2="34.5" stroke="#000" stroke-width="1.7" />
<line x1="789.9" y1="80.6" x2="783.4" y2="80.6" stroke="#000" stroke-width="1.7" />
<line x1="789.9" y1="126.7" x2="783.4" y2="126.7" stroke="#000" stroke-width="1.7" />
<line x1="789.9" y1="172.8" x2="783.4" y2="172.8" stroke="#000" stroke-width="1.7" />
<line x1="789.9" y1="218.9" x2="783.4" y2="218.9" stroke="#000" stroke-width="1.7" />
<line x1="789.9" y1="11.45" x2="786.1" y2="11.45" stroke="#000" stroke-width="1.7" />
<line x1="789.9" y1="57.55" x2="786.1" y2="57.55" stroke="#000" stroke-width="1.7" />
<line x1="789.9" y1="103.65" x2="786.1" y2="103.65" stroke="#000" stroke-width="1.7" />
<line x1="789.9" y1="149.75" x2="786.1" y2="149.75" stroke="#000" stroke-width="1.7" />
<line x1="789.9" y1="195.85" x2="786.1" y2="195.85" stroke="#000" stroke-width="1.7" />
<line x1="789.9" y1="260.52" x2="783.4" y2="260.52" stroke="#000" stroke-width="1.7" />
<line x1="789.9" y1="306.96" x2="783.4" y2="306.96" stroke="#000" stroke-width="1.7" />
<line x1="789.9" y1="353.4" x2="783.4" y2="353.4" stroke="#000" stroke-width="1.7" />
<line x1="789.9" y1="399.84" x2="783.4" y2="399.84" stroke="#000" stroke-width="1.7" />
<line x1="789.9" y1="283.74" x2="786.1" y2="283.74" stroke="#000" stroke-width="1.7" />
<line x1="789.9" y1="330.18" x2="786.1" y2="330.18" stroke="#000" stroke-width="1.7" />
<line x1="789.9" y1="376.62" x2="786.1" y2="376.62" stroke="#000" stroke-width="1.7" />
<line x1="790.5" y1="401.3" x2="790.5" y2="407.8" stroke="#000" stroke-width="1.7" />
<line x1="915" y1="401.3" x2="915" y2="407.8" stroke="#000" stroke-width="1.7" />
<line x1="1039.5" y1="401.3" x2="1039.5" y2="407.8" stroke="#000" stroke-width="1.7" />
<line x1="1164" y1="401.3" x2="1164" y2="407.8" stroke="#000" stroke-width="1.7" />
<line x1="1288.5" y1="401.3" x2="1288.5" y2="407.8" stroke="#000" stroke-width="1.7" />
<line x1="852.75" y1="401.3" x2="852.75" y2="405.1" stroke="#000" stroke-width="1.7" />
<line x1="977.25" y1="401.3" x2="977.25" y2="405.1" stroke="#000" stroke-width="1.7" />
<line x1="1101.75" y1="401.3" x2="1101.75" y2="405.1" stroke="#000" stroke-width="1.7" />
<line x1="1226.25" y1="401.3" x2="1226.25" y2="405.1" stroke="#000" stroke-width="1.7" />
<text transform="translate(779.2 44.9) scale(0.96 1)" font-size="33.2" text-anchor="end" fill="#000" stroke="#000" stroke-width="0.45" >480</text>
<text transform="translate(779.2 91) scale(0.96 1)" font-size="33.2" text-anchor="end" fill="#000" stroke="#000" stroke-width="0.45" >440</text>
<text transform="translate(779.2 137.1) scale(0.96 1)" font-size="33.2" text-anchor="end" fill="#000" stroke="#000" stroke-width="0.45" >400</text>
<text transform="translate(779.2 183.2) scale(0.96 1)" font-size="33.2" text-anchor="end" fill="#000" stroke="#000" stroke-width="0.45" >360</text>
<text transform="translate(779.2 229.3) scale(0.96 1)" font-size="33.2" text-anchor="end" fill="#000" stroke="#000" stroke-width="0.45" >320</text>
<text transform="translate(779.2 270.92) scale(0.96 1)" font-size="33.2" text-anchor="end" fill="#000" stroke="#000" stroke-width="0.45" >80</text>
<text transform="translate(779.2 317.36) scale(0.96 1)" font-size="33.2" text-anchor="end" fill="#000" stroke="#000" stroke-width="0.45" >40</text>
<text transform="translate(779.2 363.8) scale(0.96 1)" font-size="33.2" text-anchor="end" fill="#000" stroke="#000" stroke-width="0.45" >0</text>
<text transform="translate(779.2 410.24) scale(0.96 1)" font-size="33.2" text-anchor="end" fill="#000" stroke="#000" stroke-width="0.45" >-40</text>
<text transform="translate(790.5 438.5) scale(0.96 1)" font-size="33.2" text-anchor="middle" fill="#000" stroke="#000" stroke-width="0.45" >0.4</text>
<text transform="translate(915 438.5) scale(0.96 1)" font-size="33.2" text-anchor="middle" fill="#000" stroke="#000" stroke-width="0.45" >0.6</text>
<text transform="translate(1039.5 438.5) scale(0.96 1)" font-size="33.2" text-anchor="middle" fill="#000" stroke="#000" stroke-width="0.45" >0.8</text>
<text transform="translate(1164 438.5) scale(0.96 1)" font-size="33.2" text-anchor="middle" fill="#000" stroke="#000" stroke-width="0.45" >1.0</text>
<text transform="translate(1288.5 438.5) scale(0.96 1)" font-size="33.2" text-anchor="middle" fill="#000" stroke="#000" stroke-width="0.45" >1.2</text>
<text transform="translate(1039 485) scale(0.985 1)" font-size="32.7" text-anchor="middle" fill="#000" stroke="#000" stroke-width="0.45" >Log | <tspan font-style="italic">j</tspan> |&#160; (mA cm<tspan font-size="22" dy="-14">−2</tspan><tspan dy="14" font-size="1">&#8203;</tspan>)</text>
<text transform="translate(703.5 222) rotate(-90)" font-size="32.7" text-anchor="middle" fill="#000" stroke="#000" stroke-width="0.45" ><tspan font-style="italic">η</tspan> (mV)</text>
<text x="674" y="42" font-size="57.5" fill="#000" stroke="#000" stroke-width="0.65">b</text>
<text transform="translate(807 100.8) scale(0.985 1)" font-size="32.7" text-anchor="start" fill="#3dbcbc" stroke="#3dbcbc" stroke-width="0.45" >285.32 mV dec<tspan font-size="22" dy="-14">−1</tspan><tspan dy="14" font-size="1">&#8203;</tspan></text>
<text transform="translate(826.6 296) scale(0.985 1)" font-size="32.7" text-anchor="start" fill="#c79bff" stroke="#c79bff" stroke-width="0.45" >138.02 mV dec<tspan font-size="22" dy="-14">−1</tspan><tspan dy="14" font-size="1">&#8203;</tspan></text>
<text transform="translate(792.5 392.4) scale(0.985 1)" font-size="32.7" text-anchor="start" fill="#7a7a7a" stroke="#7a7a7a" stroke-width="0.45" >48.06 mV dec<tspan font-size="22" dy="-14">−1</tspan><tspan dy="14" font-size="1">&#8203;</tspan></text>
<text transform="translate(1048.5 389.2) scale(0.985 1)" font-size="32.7" text-anchor="start" fill="#ff6e6e" stroke="#ff6e6e" stroke-width="0.45" >30.85 mV dec<tspan font-size="22" dy="-14">−1</tspan><tspan dy="14" font-size="1">&#8203;</tspan></text>
<text transform="translate(1151.5 97.6) scale(0.985 1)" font-size="32.7" text-anchor="start" fill="#000" stroke="#000" stroke-width="0.45" >1 M KOH</text>
<circle cx="1111" cy="128.3" r="6.9" fill="url(#sR)"/>
<text transform="translate(1151.3 138.5) scale(0.985 1)" font-size="32.7" text-anchor="start" fill="#000" stroke="#000" stroke-width="0.45" >RuNi/NC</text>
<circle cx="1111" cy="168.35" r="6.9" fill="url(#sT)"/>
<text transform="translate(1151.3 178.55) scale(0.985 1)" font-size="32.7" text-anchor="start" fill="#000" stroke="#000" stroke-width="0.45" >Ni@NC</text>
<circle cx="1111" cy="208.4" r="6.9" fill="url(#sP)"/>
<text transform="translate(1151.3 218.6) scale(0.985 1)" font-size="32.7" text-anchor="start" fill="#000" stroke="#000" stroke-width="0.45" >Ru/NC</text>
<circle cx="1111" cy="248.45" r="6.9" fill="url(#sG)"/>
<text transform="translate(1151.3 258.65) scale(0.985 1)" font-size="32.7" text-anchor="start" fill="#000" stroke="#000" stroke-width="0.45" >Pt/C</text>
</g>
<g>
<rect x="1474.7" y="382.21" width="32.9" height="20.79" fill="url(#bR)"/>
<rect x="1507.6" y="75.14" width="32.9" height="105.76" fill="url(#bT)"/>
<rect x="1507.6" y="188.1" width="32.9" height="214.9" fill="url(#bT)"/>
<rect x="1540.5" y="304.77" width="32.9" height="98.23" fill="url(#bP)"/>
<rect x="1573.4" y="352.81" width="32.9" height="50.19" fill="url(#bG)"/>
<rect x="1639.2" y="331.84" width="32.9" height="71.16" fill="url(#bR)"/>
<rect x="1672.1" y="156" width="32.9" height="24.9" fill="url(#bT)"/>
<rect x="1672.1" y="188.1" width="32.9" height="214.9" fill="url(#bT)"/>
<rect x="1705" y="237.19" width="32.9" height="165.81" fill="url(#bP)"/>
<rect x="1737.9" y="375.04" width="32.9" height="27.96" fill="url(#bG)"/>
<rect x="1804" y="301.9" width="32.9" height="101.1" fill="url(#bR)"/>
<rect x="1836.9" y="205.82" width="32.9" height="197.18" fill="url(#bT)"/>
<rect x="1869.8" y="212.28" width="32.9" height="190.72" fill="url(#bP)"/>
<rect x="1902.7" y="343.85" width="32.9" height="59.15" fill="url(#bG)"/>
<line x1="1458.25" y1="11" x2="1953.35" y2="11" stroke="#000" stroke-width="2.1" />
<line x1="1458.25" y1="403" x2="1953.35" y2="403" stroke="#000" stroke-width="2.1" />
<line x1="1459.3" y1="11" x2="1459.3" y2="178.9" stroke="#000" stroke-width="2.1" />
<line x1="1459.3" y1="188.7" x2="1459.3" y2="403" stroke="#000" stroke-width="2.1" />
<line x1="1456.7" y1="184.45" x2="1461.9" y2="177.65" stroke="#000" stroke-width="1.8" />
<line x1="1456.7" y1="191.35" x2="1461.9" y2="184.55" stroke="#000" stroke-width="1.8" />
<line x1="1952.3" y1="11" x2="1952.3" y2="178.9" stroke="#000" stroke-width="2.1" />
<line x1="1952.3" y1="188.7" x2="1952.3" y2="403" stroke="#000" stroke-width="2.1" />
<line x1="1949.7" y1="184.45" x2="1954.9" y2="177.65" stroke="#000" stroke-width="1.8" />
<line x1="1949.7" y1="191.35" x2="1954.9" y2="184.55" stroke="#000" stroke-width="1.8" />
<line x1="1459.3" y1="37.4" x2="1452.8" y2="37.4" stroke="#000" stroke-width="1.7" />
<line x1="1459.3" y1="73.34" x2="1452.8" y2="73.34" stroke="#000" stroke-width="1.7" />
<line x1="1459.3" y1="109.28" x2="1452.8" y2="109.28" stroke="#000" stroke-width="1.7" />
<line x1="1459.3" y1="145.22" x2="1452.8" y2="145.22" stroke="#000" stroke-width="1.7" />
<line x1="1459.3" y1="19.43" x2="1455.5" y2="19.43" stroke="#000" stroke-width="1.7" />
<line x1="1459.3" y1="55.37" x2="1455.5" y2="55.37" stroke="#000" stroke-width="1.7" />
<line x1="1459.3" y1="91.31" x2="1455.5" y2="91.31" stroke="#000" stroke-width="1.7" />
<line x1="1459.3" y1="127.25" x2="1455.5" y2="127.25" stroke="#000" stroke-width="1.7" />
<line x1="1459.3" y1="163.19" x2="1455.5" y2="163.19" stroke="#000" stroke-width="1.7" />
<line x1="1459.3" y1="223.75" x2="1452.8" y2="223.75" stroke="#000" stroke-width="1.7" />
<line x1="1459.3" y1="259.6" x2="1452.8" y2="259.6" stroke="#000" stroke-width="1.7" />
<line x1="1459.3" y1="295.45" x2="1452.8" y2="295.45" stroke="#000" stroke-width="1.7" />
<line x1="1459.3" y1="331.3" x2="1452.8" y2="331.3" stroke="#000" stroke-width="1.7" />
<line x1="1459.3" y1="367.15" x2="1452.8" y2="367.15" stroke="#000" stroke-width="1.7" />
<line x1="1459.3" y1="403" x2="1452.8" y2="403" stroke="#000" stroke-width="1.7" />
<line x1="1459.3" y1="205.82" x2="1455.5" y2="205.82" stroke="#000" stroke-width="1.7" />
<line x1="1459.3" y1="241.68" x2="1455.5" y2="241.68" stroke="#000" stroke-width="1.7" />
<line x1="1459.3" y1="277.52" x2="1455.5" y2="277.52" stroke="#000" stroke-width="1.7" />
<line x1="1459.3" y1="313.38" x2="1455.5" y2="313.38" stroke="#000" stroke-width="1.7" />
<line x1="1459.3" y1="349.23" x2="1455.5" y2="349.23" stroke="#000" stroke-width="1.7" />
<line x1="1459.3" y1="385.07" x2="1455.5" y2="385.07" stroke="#000" stroke-width="1.7" />
<line x1="1540.5" y1="403" x2="1540.5" y2="409.5" stroke="#000" stroke-width="1.7" />
<line x1="1705" y1="403" x2="1705" y2="409.5" stroke="#000" stroke-width="1.7" />
<line x1="1869.8" y1="403" x2="1869.8" y2="409.5" stroke="#000" stroke-width="1.7" />
<line x1="1459.3" y1="403" x2="1459.3" y2="406.8" stroke="#000" stroke-width="1.7" />
<line x1="1623" y1="403" x2="1623" y2="406.8" stroke="#000" stroke-width="1.7" />
<line x1="1787.3" y1="403" x2="1787.3" y2="406.8" stroke="#000" stroke-width="1.7" />
<line x1="1952.3" y1="403" x2="1952.3" y2="406.8" stroke="#000" stroke-width="1.7" />
<text transform="translate(1448 47.8) scale(0.96 1)" font-size="33.2" text-anchor="end" fill="#000" stroke="#000" stroke-width="0.45" >480</text>
<text transform="translate(1448 83.74) scale(0.96 1)" font-size="33.2" text-anchor="end" fill="#000" stroke="#000" stroke-width="0.45" >460</text>
<text transform="translate(1448 119.68) scale(0.96 1)" font-size="33.2" text-anchor="end" fill="#000" stroke="#000" stroke-width="0.45" >440</text>
<text transform="translate(1448 155.62) scale(0.96 1)" font-size="33.2" text-anchor="end" fill="#000" stroke="#000" stroke-width="0.45" >420</text>
<text transform="translate(1448 234.15) scale(0.96 1)" font-size="33.2" text-anchor="end" fill="#000" stroke="#000" stroke-width="0.45" >100</text>
<text transform="translate(1448 270) scale(0.96 1)" font-size="33.2" text-anchor="end" fill="#000" stroke="#000" stroke-width="0.45" >80</text>
<text transform="translate(1448 305.85) scale(0.96 1)" font-size="33.2" text-anchor="end" fill="#000" stroke="#000" stroke-width="0.45" >60</text>
<text transform="translate(1448 341.7) scale(0.96 1)" font-size="33.2" text-anchor="end" fill="#000" stroke="#000" stroke-width="0.45" >40</text>
<text transform="translate(1448 377.55) scale(0.96 1)" font-size="33.2" text-anchor="end" fill="#000" stroke="#000" stroke-width="0.45" >20</text>
<text transform="translate(1448 413.4) scale(0.96 1)" font-size="33.2" text-anchor="end" fill="#000" stroke="#000" stroke-width="0.45" >0</text>
<text transform="translate(1379 206) rotate(-90)" font-size="32.7" text-anchor="middle" fill="#000" stroke="#000" stroke-width="0.45" ><tspan font-style="italic">η</tspan><tspan font-size="22" dy="7.5">10</tspan><tspan dy="-7.5" font-size="1">&#8203;</tspan> (mV)</text>
<text x="1343.5" y="42.5" font-size="57.5" fill="#000" stroke="#000" stroke-width="0.65">c</text>
<text transform="translate(1597 443.8) rotate(-15) scale(0.985 1)" font-size="32.7" text-anchor="end" fill="#000" stroke="#000" stroke-width="0.45" >1 M KOH</text>
<text transform="translate(1794 431) rotate(-15) scale(0.985 1)" font-size="32.7" text-anchor="end" fill="#000" stroke="#000" stroke-width="0.45" >0.5 M H<tspan font-size="22" dy="7.5">2</tspan><tspan dy="-7.5" font-size="1">&#8203;</tspan>SO<tspan font-size="22" dy="7.5">4</tspan><tspan dy="-7.5" font-size="1">&#8203;</tspan></text>
<text transform="translate(1931 443.8) rotate(-15) scale(0.985 1)" font-size="32.7" text-anchor="end" fill="#000" stroke="#000" stroke-width="0.45" >1 M PBS</text>
<rect x="1756.7" y="27.2" width="48" height="23.6" fill="url(#bR)"/>
<text transform="translate(1813.2 47.4) scale(0.985 1)" font-size="32.7" text-anchor="start" fill="#000" stroke="#000" stroke-width="0.45" >RuNi/NC</text>
<rect x="1756.7" y="67.4" width="48" height="23.6" fill="url(#bT)"/>
<text transform="translate(1813.2 87.6) scale(0.985 1)" font-size="32.7" text-anchor="start" fill="#000" stroke="#000" stroke-width="0.45" >Ni@NC</text>
<rect x="1756.7" y="107.6" width="48" height="23.6" fill="url(#bP)"/>
<text transform="translate(1813.2 127.8) scale(0.985 1)" font-size="32.7" text-anchor="start" fill="#000" stroke="#000" stroke-width="0.45" >Ru/NC</text>
<rect x="1756.7" y="147.8" width="48" height="23.6" fill="url(#bG)"/>
<text transform="translate(1813.2 168) scale(0.985 1)" font-size="32.7" text-anchor="start" fill="#000" stroke="#000" stroke-width="0.45" >Pt/C</text>
</g>
<g>
<clipPath id="cd"><rect x="116.8" y="531.5" width="1171.5" height="391.0"/></clipPath>
<g clip-path="url(#cd)">
<ellipse cx="117" cy="727.2" rx="8.1" ry="9.3" fill="url(#sR2)"/>
<ellipse cx="133.67" cy="736.1" rx="8.1" ry="9.3" fill="url(#sR2)"/>
<ellipse cx="150.34" cy="739.4" rx="8.1" ry="9.3" fill="url(#sR2)"/>
<ellipse cx="167.02" cy="740.2" rx="8.1" ry="9.3" fill="url(#sR2)"/>
<ellipse cx="183.69" cy="736.6" rx="8.1" ry="9.3" fill="url(#sR2)"/>
<ellipse cx="200.36" cy="737.2" rx="8.1" ry="9.3" fill="url(#sR2)"/>
<ellipse cx="217.03" cy="737.2" rx="8.1" ry="9.3" fill="url(#sR2)"/>
<ellipse cx="233.7" cy="737.2" rx="8.1" ry="9.3" fill="url(#sR2)"/>
<ellipse cx="250.38" cy="735.8" rx="8.1" ry="9.3" fill="url(#sR2)"/>
<ellipse cx="267.05" cy="734.5" rx="8.1" ry="9.3" fill="url(#sR2)"/>
<ellipse cx="283.72" cy="736.1" rx="8.1" ry="9.3" fill="url(#sR2)"/>
<ellipse cx="300.39" cy="737.7" rx="8.1" ry="9.3" fill="url(#sR2)"/>
<ellipse cx="317.06" cy="737.2" rx="8.1" ry="9.3" fill="url(#sR2)"/>
<ellipse cx="333.74" cy="738.5" rx="8.1" ry="9.3" fill="url(#sR2)"/>
<ellipse cx="350.41" cy="739.4" rx="8.1" ry="9.3" fill="url(#sR2)"/>
<ellipse cx="367.08" cy="739.7" rx="8.1" ry="9.3" fill="url(#sR2)"/>
<ellipse cx="383.75" cy="739.7" rx="8.1" ry="9.3" fill="url(#sR2)"/>
<ellipse cx="400.42" cy="741" rx="8.1" ry="9.3" fill="url(#sR2)"/>
<ellipse cx="417.1" cy="741" rx="8.1" ry="9.3" fill="url(#sR2)"/>
<ellipse cx="433.77" cy="741.8" rx="8.1" ry="9.3" fill="url(#sR2)"/>
<ellipse cx="450.44" cy="739" rx="8.1" ry="9.3" fill="url(#sR2)"/>
<ellipse cx="467.11" cy="738.2" rx="8.1" ry="9.3" fill="url(#sR2)"/>
<ellipse cx="483.78" cy="741" rx="8.1" ry="9.3" fill="url(#sR2)"/>
<ellipse cx="500.46" cy="741" rx="8.1" ry="9.3" fill="url(#sR2)"/>
<ellipse cx="517.13" cy="741.5" rx="8.1" ry="9.3" fill="url(#sR2)"/>
<ellipse cx="533.8" cy="744.2" rx="8.1" ry="9.3" fill="url(#sR2)"/>
<ellipse cx="550.47" cy="742.9" rx="8.1" ry="9.3" fill="url(#sR2)"/>
<ellipse cx="567.14" cy="745.8" rx="8.1" ry="9.3" fill="url(#sR2)"/>
<ellipse cx="583.82" cy="745.3" rx="8.1" ry="9.3" fill="url(#sR2)"/>
<ellipse cx="600.49" cy="745" rx="8.1" ry="9.3" fill="url(#sR2)"/>
<ellipse cx="617.16" cy="744.2" rx="8.1" ry="9.3" fill="url(#sR2)"/>
<ellipse cx="633.83" cy="743.4" rx="8.1" ry="9.3" fill="url(#sR2)"/>
<ellipse cx="650.5" cy="743.4" rx="8.1" ry="9.3" fill="url(#sR2)"/>
<ellipse cx="667.18" cy="744.7" rx="8.1" ry="9.3" fill="url(#sR2)"/>
<ellipse cx="683.85" cy="744.2" rx="8.1" ry="9.3" fill="url(#sR2)"/>
<ellipse cx="700.52" cy="746.3" rx="8.1" ry="9.3" fill="url(#sR2)"/>
<ellipse cx="717.19" cy="745" rx="8.1" ry="9.3" fill="url(#sR2)"/>
<ellipse cx="733.86" cy="747.4" rx="8.1" ry="9.3" fill="url(#sR2)"/>
<ellipse cx="750.54" cy="747.9" rx="8.1" ry="9.3" fill="url(#sR2)"/>
<ellipse cx="767.21" cy="749.9" rx="8.1" ry="9.3" fill="url(#sR2)"/>
<ellipse cx="783.88" cy="750.7" rx="8.1" ry="9.3" fill="url(#sR2)"/>
<ellipse cx="800.55" cy="751.5" rx="8.1" ry="9.3" fill="url(#sR2)"/>
<ellipse cx="817.22" cy="751.8" rx="8.1" ry="9.3" fill="url(#sR2)"/>
<ellipse cx="833.9" cy="754.7" rx="8.1" ry="9.3" fill="url(#sR2)"/>
<ellipse cx="850.57" cy="756.3" rx="8.1" ry="9.3" fill="url(#sR2)"/>
<ellipse cx="867.24" cy="756.7" rx="8.1" ry="9.3" fill="url(#sR2)"/>
<ellipse cx="883.91" cy="756.7" rx="8.1" ry="9.3" fill="url(#sR2)"/>
<ellipse cx="900.58" cy="756.7" rx="8.1" ry="9.3" fill="url(#sR2)"/>
<ellipse cx="917.26" cy="756.3" rx="8.1" ry="9.3" fill="url(#sR2)"/>
<ellipse cx="933.93" cy="755.5" rx="8.1" ry="9.3" fill="url(#sR2)"/>
<ellipse cx="950.6" cy="752.8" rx="8.1" ry="9.3" fill="url(#sR2)"/>
<ellipse cx="967.27" cy="747.4" rx="8.1" ry="9.3" fill="url(#sR2)"/>
<ellipse cx="983.94" cy="750.2" rx="8.1" ry="9.3" fill="url(#sR2)"/>
<ellipse cx="1000.62" cy="746.8" rx="8.1" ry="9.3" fill="url(#sR2)"/>
<ellipse cx="1017.29" cy="750.7" rx="8.1" ry="9.3" fill="url(#sR2)"/>
<ellipse cx="1033.96" cy="751.5" rx="8.1" ry="9.3" fill="url(#sR2)"/>
<ellipse cx="1050.63" cy="750.2" rx="8.1" ry="9.3" fill="url(#sR2)"/>
<ellipse cx="1067.3" cy="749.9" rx="8.1" ry="9.3" fill="url(#sR2)"/>
<ellipse cx="1083.98" cy="751.5" rx="8.1" ry="9.3" fill="url(#sR2)"/>
<ellipse cx="1100.65" cy="750.7" rx="8.1" ry="9.3" fill="url(#sR2)"/>
<ellipse cx="1117.32" cy="751.2" rx="8.1" ry="9.3" fill="url(#sR2)"/>
<ellipse cx="1133.99" cy="750.7" rx="8.1" ry="9.3" fill="url(#sR2)"/>
<ellipse cx="1150.66" cy="750.4" rx="8.1" ry="9.3" fill="url(#sR2)"/>
<ellipse cx="1167.34" cy="750.7" rx="8.1" ry="9.3" fill="url(#sR2)"/>
<ellipse cx="1184.01" cy="749.1" rx="8.1" ry="9.3" fill="url(#sR2)"/>
<ellipse cx="1200.68" cy="752.3" rx="8.1" ry="9.3" fill="url(#sR2)"/>
<ellipse cx="1217.35" cy="751.5" rx="8.1" ry="9.3" fill="url(#sR2)"/>
<ellipse cx="1234.02" cy="751.8" rx="8.1" ry="9.3" fill="url(#sR2)"/>
<ellipse cx="1250.7" cy="751.2" rx="8.1" ry="9.3" fill="url(#sR2)"/>
<ellipse cx="1267.37" cy="750.7" rx="8.1" ry="9.3" fill="url(#sR2)"/>
<ellipse cx="1284.04" cy="751.2" rx="8.1" ry="9.3" fill="url(#sR2)"/>
<ellipse cx="1287.4" cy="751.2" rx="8.1" ry="9.3" fill="url(#sR2)"/>
<ellipse cx="117" cy="738" rx="8.1" ry="9.3" fill="url(#sG2)"/>
<ellipse cx="118.5" cy="740.61" rx="8.1" ry="9.3" fill="url(#sG2)"/>
<ellipse cx="119.99" cy="741.63" rx="8.1" ry="9.3" fill="url(#sG2)"/>
<ellipse cx="121.49" cy="742.29" rx="8.1" ry="9.3" fill="url(#sG2)"/>
<ellipse cx="122.99" cy="743.61" rx="8.1" ry="9.3" fill="url(#sG2)"/>
<ellipse cx="124.48" cy="744.18" rx="8.1" ry="9.3" fill="url(#sG2)"/>
<ellipse cx="125.98" cy="745.34" rx="8.1" ry="9.3" fill="url(#sG2)"/>
<ellipse cx="127.48" cy="746.19" rx="8.1" ry="9.3" fill="url(#sG2)"/>
<ellipse cx="128.98" cy="746.08" rx="8.1" ry="9.3" fill="url(#sG2)"/>
<ellipse cx="130.47" cy="746.6" rx="8.1" ry="9.3" fill="url(#sG2)"/>
<ellipse cx="131.97" cy="748.35" rx="8.1" ry="9.3" fill="url(#sG2)"/>
<ellipse cx="133.47" cy="748.13" rx="8.1" ry="9.3" fill="url(#sG2)"/>
<ellipse cx="134.96" cy="748.54" rx="8.1" ry="9.3" fill="url(#sG2)"/>
<ellipse cx="136.46" cy="749.85" rx="8.1" ry="9.3" fill="url(#sG2)"/>
<ellipse cx="137.96" cy="749.36" rx="8.1" ry="9.3" fill="url(#sG2)"/>
<ellipse cx="139.45" cy="750.12" rx="8.1" ry="9.3" fill="url(#sG2)"/>
<ellipse cx="140.95" cy="749.87" rx="8.1" ry="9.3" fill="url(#sG2)"/>
<ellipse cx="142.45" cy="750.34" rx="8.1" ry="9.3" fill="url(#sG2)"/>
<ellipse cx="143.94" cy="749.91" rx="8.1" ry="9.3" fill="url(#sG2)"/>
<ellipse cx="145.44" cy="750.83" rx="8.1" ry="9.3" fill="url(#sG2)"/>
<ellipse cx="146.94" cy="751.43" rx="8.1" ry="9.3" fill="url(#sG2)"/>
<ellipse cx="148.44" cy="751.27" rx="8.1" ry="9.3" fill="url(#sG2)"/>
<ellipse cx="149.93" cy="751.9" rx="8.1" ry="9.3" fill="url(#sG2)"/>
<ellipse cx="151.43" cy="752.12" rx="8.1" ry="9.3" fill="url(#sG2)"/>
<ellipse cx="152.93" cy="751.59" rx="8.1" ry="9.3" fill="url(#sG2)"/>
<ellipse cx="154.42" cy="752.89" rx="8.1" ry="9.3" fill="url(#sG2)"/>
<ellipse cx="155.92" cy="752.97" rx="8.1" ry="9.3" fill="url(#sG2)"/>
<ellipse cx="157.42" cy="752.89" rx="8.1" ry="9.3" fill="url(#sG2)"/>
<ellipse cx="158.91" cy="752.86" rx="8.1" ry="9.3" fill="url(#sG2)"/>
<ellipse cx="160.41" cy="754.46" rx="8.1" ry="9.3" fill="url(#sG2)"/>
<ellipse cx="161.91" cy="754.34" rx="8.1" ry="9.3" fill="url(#sG2)"/>
<ellipse cx="163.4" cy="755.11" rx="8.1" ry="9.3" fill="url(#sG2)"/>
<ellipse cx="164.9" cy="755.77" rx="8.1" ry="9.3" fill="url(#sG2)"/>
<ellipse cx="166.4" cy="755.97" rx="8.1" ry="9.3" fill="url(#sG2)"/>
<ellipse cx="167.9" cy="756.68" rx="8.1" ry="9.3" fill="url(#sG2)"/>
<ellipse cx="169.39" cy="756.38" rx="8.1" ry="9.3" fill="url(#sG2)"/>
<ellipse cx="170.89" cy="757.37" rx="8.1" ry="9.3" fill="url(#sG2)"/>
<ellipse cx="172.39" cy="757.28" rx="8.1" ry="9.3" fill="url(#sG2)"/>
<ellipse cx="173.88" cy="758.38" rx="8.1" ry="9.3" fill="url(#sG2)"/>
<ellipse cx="175.38" cy="758.71" rx="8.1" ry="9.3" fill="url(#sG2)"/>
<ellipse cx="176.88" cy="758.02" rx="8.1" ry="9.3" fill="url(#sG2)"/>
<ellipse cx="178.37" cy="758.48" rx="8.1" ry="9.3" fill="url(#sG2)"/>
<ellipse cx="179.87" cy="759" rx="8.1" ry="9.3" fill="url(#sG2)"/>
<ellipse cx="181.37" cy="760.46" rx="8.1" ry="9.3" fill="url(#sG2)"/>
<ellipse cx="182.86" cy="760.12" rx="8.1" ry="9.3" fill="url(#sG2)"/>
<ellipse cx="184.36" cy="760.72" rx="8.1" ry="9.3" fill="url(#sG2)"/>
<ellipse cx="185.86" cy="760.6" rx="8.1" ry="9.3" fill="url(#sG2)"/>
<ellipse cx="187.36" cy="761.22" rx="8.1" ry="9.3" fill="url(#sG2)"/>
<ellipse cx="188.85" cy="761.38" rx="8.1" ry="9.3" fill="url(#sG2)"/>
<ellipse cx="190.35" cy="761.66" rx="8.1" ry="9.3" fill="url(#sG2)"/>
<ellipse cx="191.85" cy="762.32" rx="8.1" ry="9.3" fill="url(#sG2)"/>
<ellipse cx="193.34" cy="762.65" rx="8.1" ry="9.3" fill="url(#sG2)"/>
<ellipse cx="194.84" cy="763.43" rx="8.1" ry="9.3" fill="url(#sG2)"/>
<ellipse cx="196.34" cy="763.71" rx="8.1" ry="9.3" fill="url(#sG2)"/>
<ellipse cx="197.83" cy="764.68" rx="8.1" ry="9.3" fill="url(#sG2)"/>
<ellipse cx="199.33" cy="765.2" rx="8.1" ry="9.3" fill="url(#sG2)"/>
<ellipse cx="200.83" cy="766.02" rx="8.1" ry="9.3" fill="url(#sG2)"/>
<ellipse cx="202.32" cy="766.42" rx="8.1" ry="9.3" fill="url(#sG2)"/>
<ellipse cx="203.82" cy="766.59" rx="8.1" ry="9.3" fill="url(#sG2)"/>
<ellipse cx="205.32" cy="768.45" rx="8.1" ry="9.3" fill="url(#sG2)"/>
<ellipse cx="206.82" cy="769.48" rx="8.1" ry="9.3" fill="url(#sG2)"/>
<ellipse cx="208.31" cy="770.25" rx="8.1" ry="9.3" fill="url(#sG2)"/>
<ellipse cx="209.81" cy="770.63" rx="8.1" ry="9.3" fill="url(#sG2)"/>
<ellipse cx="211.31" cy="771.6" rx="8.1" ry="9.3" fill="url(#sG2)"/>
<ellipse cx="212.8" cy="771.8" rx="8.1" ry="9.3" fill="url(#sG2)"/>
<ellipse cx="214.3" cy="772.3" rx="8.1" ry="9.3" fill="url(#sG2)"/>
<path d="M115.34,734.28 A4.6,4.6 0 0 0 114.53,740.45" fill="none" stroke="#d2d2d2" stroke-width="0.8"/>
<path d="M116.84,735.31 A4.6,4.6 0 0 0 116.03,741.47" fill="none" stroke="#d2d2d2" stroke-width="0.8"/>
<path d="M118.33,735.96 A4.6,4.6 0 0 0 117.52,742.12" fill="none" stroke="#d2d2d2" stroke-width="0.8"/>
<path d="M119.83,737.28 A4.6,4.6 0 0 0 119.02,743.44" fill="none" stroke="#d2d2d2" stroke-width="0.8"/>
<path d="M121.33,737.86 A4.6,4.6 0 0 0 120.52,744.02" fill="none" stroke="#d2d2d2" stroke-width="0.8"/>
<path d="M122.82,739.01 A4.6,4.6 0 0 0 122.01,745.17" fill="none" stroke="#d2d2d2" stroke-width="0.8"/>
<path d="M124.32,739.87 A4.6,4.6 0 0 0 123.51,746.03" fill="none" stroke="#d2d2d2" stroke-width="0.8"/>
<path d="M125.82,739.75 A4.6,4.6 0 0 0 125.01,745.92" fill="none" stroke="#d2d2d2" stroke-width="0.8"/>
<path d="M127.32,740.28 A4.6,4.6 0 0 0 126.5,746.44" fill="none" stroke="#d2d2d2" stroke-width="0.8"/>
<path d="M128.81,742.02 A4.6,4.6 0 0 0 128,748.19" fill="none" stroke="#d2d2d2" stroke-width="0.8"/>
<path d="M130.31,741.81 A4.6,4.6 0 0 0 129.5,747.97" fill="none" stroke="#d2d2d2" stroke-width="0.8"/>
<path d="M131.81,742.21 A4.6,4.6 0 0 0 130.99,748.38" fill="none" stroke="#d2d2d2" stroke-width="0.8"/>
<path d="M133.3,743.53 A4.6,4.6 0 0 0 132.49,749.69" fill="none" stroke="#d2d2d2" stroke-width="0.8"/>
<path d="M134.8,743.04 A4.6,4.6 0 0 0 133.99,749.2" fill="none" stroke="#d2d2d2" stroke-width="0.8"/>
<path d="M136.3,743.8 A4.6,4.6 0 0 0 135.49,749.96" fill="none" stroke="#d2d2d2" stroke-width="0.8"/>
<path d="M137.79,743.54 A4.6,4.6 0 0 0 136.98,749.7" fill="none" stroke="#d2d2d2" stroke-width="0.8"/>
<path d="M139.29,744.02 A4.6,4.6 0 0 0 138.48,750.18" fill="none" stroke="#d2d2d2" stroke-width="0.8"/>
<path d="M140.79,743.58 A4.6,4.6 0 0 0 139.98,749.74" fill="none" stroke="#d2d2d2" stroke-width="0.8"/>
<path d="M142.28,744.51 A4.6,4.6 0 0 0 141.47,750.67" fill="none" stroke="#d2d2d2" stroke-width="0.8"/>
<path d="M143.78,745.11 A4.6,4.6 0 0 0 142.97,751.27" fill="none" stroke="#d2d2d2" stroke-width="0.8"/>
<path d="M145.28,744.95 A4.6,4.6 0 0 0 144.47,751.11" fill="none" stroke="#d2d2d2" stroke-width="0.8"/>
<path d="M146.78,745.57 A4.6,4.6 0 0 0 145.96,751.74" fill="none" stroke="#d2d2d2" stroke-width="0.8"/>
<path d="M148.27,745.8 A4.6,4.6 0 0 0 147.46,751.96" fill="none" stroke="#d2d2d2" stroke-width="0.8"/>
<path d="M149.77,745.27 A4.6,4.6 0 0 0 148.96,751.43" fill="none" stroke="#d2d2d2" stroke-width="0.8"/>
<path d="M151.27,746.56 A4.6,4.6 0 0 0 150.45,752.72" fill="none" stroke="#d2d2d2" stroke-width="0.8"/>
<path d="M152.76,746.65 A4.6,4.6 0 0 0 151.95,752.81" fill="none" stroke="#d2d2d2" stroke-width="0.8"/>
<path d="M154.26,746.57 A4.6,4.6 0 0 0 153.45,752.73" fill="none" stroke="#d2d2d2" stroke-width="0.8"/>
<path d="M155.76,746.54 A4.6,4.6 0 0 0 154.95,752.7" fill="none" stroke="#d2d2d2" stroke-width="0.8"/>
<path d="M157.25,748.14 A4.6,4.6 0 0 0 156.44,754.3" fill="none" stroke="#d2d2d2" stroke-width="0.8"/>
<path d="M158.75,748.02 A4.6,4.6 0 0 0 157.94,754.18" fill="none" stroke="#d2d2d2" stroke-width="0.8"/>
<path d="M160.25,748.79 A4.6,4.6 0 0 0 159.44,754.95" fill="none" stroke="#d2d2d2" stroke-width="0.8"/>
<path d="M161.74,749.44 A4.6,4.6 0 0 0 160.93,755.61" fill="none" stroke="#d2d2d2" stroke-width="0.8"/>
<path d="M163.24,749.64 A4.6,4.6 0 0 0 162.43,755.8" fill="none" stroke="#d2d2d2" stroke-width="0.8"/>
<path d="M164.74,750.36 A4.6,4.6 0 0 0 163.93,756.52" fill="none" stroke="#d2d2d2" stroke-width="0.8"/>
<path d="M166.24,750.05 A4.6,4.6 0 0 0 165.42,756.22" fill="none" stroke="#d2d2d2" stroke-width="0.8"/>
<path d="M167.73,751.05 A4.6,4.6 0 0 0 166.92,757.21" fill="none" stroke="#d2d2d2" stroke-width="0.8"/>
<path d="M169.23,750.96 A4.6,4.6 0 0 0 168.42,757.12" fill="none" stroke="#d2d2d2" stroke-width="0.8"/>
<path d="M170.73,752.05 A4.6,4.6 0 0 0 169.91,758.22" fill="none" stroke="#d2d2d2" stroke-width="0.8"/>
<path d="M172.22,752.38 A4.6,4.6 0 0 0 171.41,758.55" fill="none" stroke="#d2d2d2" stroke-width="0.8"/>
<path d="M173.72,751.7 A4.6,4.6 0 0 0 172.91,757.86" fill="none" stroke="#d2d2d2" stroke-width="0.8"/>
<path d="M175.22,752.16 A4.6,4.6 0 0 0 174.41,758.32" fill="none" stroke="#d2d2d2" stroke-width="0.8"/>
<path d="M176.71,752.68 A4.6,4.6 0 0 0 175.9,758.84" fill="none" stroke="#d2d2d2" stroke-width="0.8"/>
<path d="M178.21,754.14 A4.6,4.6 0 0 0 177.4,760.3" fill="none" stroke="#d2d2d2" stroke-width="0.8"/>
<path d="M179.71,753.8 A4.6,4.6 0 0 0 178.9,759.96" fill="none" stroke="#d2d2d2" stroke-width="0.8"/>
<path d="M181.2,754.4 A4.6,4.6 0 0 0 180.39,760.56" fill="none" stroke="#d2d2d2" stroke-width="0.8"/>
<path d="M182.7,754.27 A4.6,4.6 0 0 0 181.89,760.44" fill="none" stroke="#d2d2d2" stroke-width="0.8"/>
<path d="M184.2,754.89 A4.6,4.6 0 0 0 183.39,761.06" fill="none" stroke="#d2d2d2" stroke-width="0.8"/>
<path d="M185.7,755.06 A4.6,4.6 0 0 0 184.88,761.22" fill="none" stroke="#d2d2d2" stroke-width="0.8"/>
<path d="M187.19,755.34 A4.6,4.6 0 0 0 186.38,761.5" fill="none" stroke="#d2d2d2" stroke-width="0.8"/>
<path d="M188.69,756 A4.6,4.6 0 0 0 187.88,762.16" fill="none" stroke="#d2d2d2" stroke-width="0.8"/>
<path d="M190.19,756.33 A4.6,4.6 0 0 0 189.37,762.49" fill="none" stroke="#d2d2d2" stroke-width="0.8"/>
<path d="M191.68,757.11 A4.6,4.6 0 0 0 190.87,763.27" fill="none" stroke="#d2d2d2" stroke-width="0.8"/>
<path d="M193.18,757.39 A4.6,4.6 0 0 0 192.37,763.55" fill="none" stroke="#d2d2d2" stroke-width="0.8"/>
<path d="M194.68,758.36 A4.6,4.6 0 0 0 193.87,764.52" fill="none" stroke="#d2d2d2" stroke-width="0.8"/>
<path d="M196.17,758.88 A4.6,4.6 0 0 0 195.36,765.04" fill="none" stroke="#d2d2d2" stroke-width="0.8"/>
<path d="M197.67,759.69 A4.6,4.6 0 0 0 196.86,765.85" fill="none" stroke="#d2d2d2" stroke-width="0.8"/>
<path d="M199.17,760.1 A4.6,4.6 0 0 0 198.36,766.26" fill="none" stroke="#d2d2d2" stroke-width="0.8"/>
<path d="M200.66,760.27 A4.6,4.6 0 0 0 199.85,766.43" fill="none" stroke="#d2d2d2" stroke-width="0.8"/>
<path d="M202.16,762.13 A4.6,4.6 0 0 0 201.35,768.29" fill="none" stroke="#d2d2d2" stroke-width="0.8"/>
<path d="M203.66,763.16 A4.6,4.6 0 0 0 202.85,769.32" fill="none" stroke="#d2d2d2" stroke-width="0.8"/>
<path d="M205.16,763.93 A4.6,4.6 0 0 0 204.34,770.09" fill="none" stroke="#d2d2d2" stroke-width="0.8"/>
<path d="M206.65,764.3 A4.6,4.6 0 0 0 205.84,770.46" fill="none" stroke="#d2d2d2" stroke-width="0.8"/>
<path d="M208.15,765.28 A4.6,4.6 0 0 0 207.34,771.44" fill="none" stroke="#d2d2d2" stroke-width="0.8"/>
<path d="M209.65,765.48 A4.6,4.6 0 0 0 208.83,771.64" fill="none" stroke="#d2d2d2" stroke-width="0.8"/>
<ellipse cx="214.3" cy="772.3" rx="8.1" ry="9.3" fill="url(#sG2)"/>
</g>
<rect x="116.8" y="531.5" width="1171.5" height="391" fill="none" stroke="#000" stroke-width="2.1"/>
<line x1="116.8" y1="570.44" x2="110.3" y2="570.44" stroke="#000" stroke-width="1.7" />
<line x1="116.8" y1="648.72" x2="110.3" y2="648.72" stroke="#000" stroke-width="1.7" />
<line x1="116.8" y1="727" x2="110.3" y2="727" stroke="#000" stroke-width="1.7" />
<line x1="116.8" y1="805.28" x2="110.3" y2="805.28" stroke="#000" stroke-width="1.7" />
<line x1="116.8" y1="883.56" x2="110.3" y2="883.56" stroke="#000" stroke-width="1.7" />
<line x1="116.8" y1="609.58" x2="113" y2="609.58" stroke="#000" stroke-width="1.7" />
<line x1="116.8" y1="687.86" x2="113" y2="687.86" stroke="#000" stroke-width="1.7" />
<line x1="116.8" y1="766.14" x2="113" y2="766.14" stroke="#000" stroke-width="1.7" />
<line x1="116.8" y1="844.42" x2="113" y2="844.42" stroke="#000" stroke-width="1.7" />
<line x1="116.8" y1="922.5" x2="116.8" y2="929" stroke="#000" stroke-width="1.7" />
<line x1="263.24" y1="922.5" x2="263.24" y2="929" stroke="#000" stroke-width="1.7" />
<line x1="409.68" y1="922.5" x2="409.68" y2="929" stroke="#000" stroke-width="1.7" />
<line x1="556.11" y1="922.5" x2="556.11" y2="929" stroke="#000" stroke-width="1.7" />
<line x1="702.55" y1="922.5" x2="702.55" y2="929" stroke="#000" stroke-width="1.7" />
<line x1="848.99" y1="922.5" x2="848.99" y2="929" stroke="#000" stroke-width="1.7" />
<line x1="995.43" y1="922.5" x2="995.43" y2="929" stroke="#000" stroke-width="1.7" />
<line x1="1141.87" y1="922.5" x2="1141.87" y2="929" stroke="#000" stroke-width="1.7" />
<line x1="1288.3" y1="922.5" x2="1288.3" y2="929" stroke="#000" stroke-width="1.7" />
<line x1="190.02" y1="922.5" x2="190.02" y2="926.3" stroke="#000" stroke-width="1.7" />
<line x1="336.46" y1="922.5" x2="336.46" y2="926.3" stroke="#000" stroke-width="1.7" />
<line x1="482.9" y1="922.5" x2="482.9" y2="926.3" stroke="#000" stroke-width="1.7" />
<line x1="629.33" y1="922.5" x2="629.33" y2="926.3" stroke="#000" stroke-width="1.7" />
<line x1="775.77" y1="922.5" x2="775.77" y2="926.3" stroke="#000" stroke-width="1.7" />
<line x1="922.21" y1="922.5" x2="922.21" y2="926.3" stroke="#000" stroke-width="1.7" />
<line x1="1068.65" y1="922.5" x2="1068.65" y2="926.3" stroke="#000" stroke-width="1.7" />
<line x1="1215.09" y1="922.5" x2="1215.09" y2="926.3" stroke="#000" stroke-width="1.7" />
<text transform="translate(106 580.24) scale(0.95 1)" font-size="31.7" text-anchor="end" fill="#000" stroke="#000" stroke-width="0.45" >0.4</text>
<text transform="translate(106 658.52) scale(0.95 1)" font-size="31.7" text-anchor="end" fill="#000" stroke="#000" stroke-width="0.45" >0.2</text>
<text transform="translate(106 736.8) scale(0.95 1)" font-size="31.7" text-anchor="end" fill="#000" stroke="#000" stroke-width="0.45" >0.0</text>
<text transform="translate(106 815.08) scale(0.95 1)" font-size="31.7" text-anchor="end" fill="#000" stroke="#000" stroke-width="0.45" >-0.2</text>
<text transform="translate(106 893.36) scale(0.95 1)" font-size="31.7" text-anchor="end" fill="#000" stroke="#000" stroke-width="0.45" >-0.4</text>
<text transform="translate(116.8 958.5) scale(0.95 1)" font-size="31.7" text-anchor="middle" fill="#000" stroke="#000" stroke-width="0.45" >0</text>
<text transform="translate(263.24 958.5) scale(0.95 1)" font-size="31.7" text-anchor="middle" fill="#000" stroke="#000" stroke-width="0.45" >200</text>
<text transform="translate(409.68 958.5) scale(0.95 1)" font-size="31.7" text-anchor="middle" fill="#000" stroke="#000" stroke-width="0.45" >400</text>
<text transform="translate(556.11 958.5) scale(0.95 1)" font-size="31.7" text-anchor="middle" fill="#000" stroke="#000" stroke-width="0.45" >600</text>
<text transform="translate(702.55 958.5) scale(0.95 1)" font-size="31.7" text-anchor="middle" fill="#000" stroke="#000" stroke-width="0.45" >800</text>
<text transform="translate(848.99 958.5) scale(0.95 1)" font-size="31.7" text-anchor="middle" fill="#000" stroke="#000" stroke-width="0.45" >1000</text>
<text transform="translate(995.43 958.5) scale(0.95 1)" font-size="31.7" text-anchor="middle" fill="#000" stroke="#000" stroke-width="0.45" >1200</text>
<text transform="translate(1141.87 958.5) scale(0.95 1)" font-size="31.7" text-anchor="middle" fill="#000" stroke="#000" stroke-width="0.45" >1400</text>
<text transform="translate(1288.3 958.5) scale(0.95 1)" font-size="31.7" text-anchor="middle" fill="#000" stroke="#000" stroke-width="0.45" >1600</text>
<text transform="translate(702 1008.3) scale(0.985 1)" font-size="31.7" text-anchor="middle" fill="#000" stroke="#000" stroke-width="0.45" >Time (h)</text>
<text transform="translate(30 727) rotate(-90) scale(1.03 1)" font-size="31.7" text-anchor="middle" fill="#000" stroke="#000" stroke-width="0.45" ><tspan font-style="italic">E</tspan> (V vs. RHE)</text>
<text x="2.5" y="562" font-size="57.5" fill="#000" stroke="#000" stroke-width="0.65">d</text>
<text transform="translate(148.5 571.3) scale(0.985 1)" font-size="31.7" text-anchor="start" fill="#000" stroke="#000" stroke-width="0.45" >1 M KOH, <tspan font-style="italic">j</tspan>@10 mA cm<tspan font-size="21" dy="-13">−2</tspan><tspan dy="13" font-size="1">&#8203;</tspan></text>
<ellipse cx="153.8" cy="605.8" rx="8.7" ry="9.1" fill="url(#sR2)"/>
<text transform="translate(177.5 611.1) scale(0.985 1)" font-size="31.7" text-anchor="start" fill="#000" stroke="#000" stroke-width="0.45" >RuNi/NC</text>
<ellipse cx="153.8" cy="654.1" rx="8.7" ry="9.1" fill="url(#sG2)"/>
<text transform="translate(177.5 659.4) scale(0.985 1)" font-size="31.7" text-anchor="start" fill="#000" stroke="#000" stroke-width="0.45" >Pt/C</text>
</g>
<g>
<clipPath id="ce"><rect x="1459.9" y="530.5" width="492.0" height="392.1"/></clipPath>
<g clip-path="url(#ce)">
<line x1="1459.9" y1="885.1" x2="1945" y2="885.1" stroke="#3bb0b0" stroke-width="4.4" stroke-dasharray="10.6 7.6"/>
<polyline points="1459.9,905.9 1462.58,905.88 1466.06,905.86 1470.21,905.83 1474.86,905.8 1479.86,905.76 1485.07,905.72 1490.33,905.66 1495.5,905.6 1500.71,905.53 1506.18,905.44 1511.84,905.35 1517.63,905.26 1523.5,905.15 1529.39,905.04 1535.24,904.92 1541,904.8 1546.79,904.67 1552.73,904.52 1558.73,904.37 1564.7,904.21 1570.55,904.05 1576.19,903.9 1581.54,903.74 1586.5,903.6 1591.01,903.47 1595.14,903.36 1598.97,903.25 1602.59,903.15 1606.1,903.04 1609.57,902.92 1613.11,902.77 1616.8,902.6 1620.6,902.41 1624.4,902.2 1628.2,901.97 1632,901.73 1635.8,901.47 1639.6,901.2 1643.4,900.91 1647.2,900.6 1651.05,900.27 1654.96,899.9 1658.91,899.52 1662.84,899.12 1666.71,898.72 1670.48,898.31 1674.09,897.9 1677.5,897.5 1680.7,897.11 1683.73,896.73 1686.62,896.35 1689.39,895.96 1692.09,895.57 1694.73,895.17 1697.36,894.74 1700,894.3 1702.62,893.84 1705.17,893.37 1707.67,892.88 1710.14,892.38 1712.6,891.86 1715.04,891.33 1717.51,890.78 1720,890.2 1722.52,889.6 1725.05,888.97 1727.58,888.31 1730.11,887.64 1732.65,886.96 1735.17,886.27 1737.69,885.59 1740.2,884.9 1742.69,884.22 1745.16,883.54 1747.62,882.86 1750.08,882.17 1752.54,881.48 1755.01,880.77 1757.49,880.05 1760,879.3 1762.49,878.56 1764.93,877.84 1767.36,877.11 1769.81,876.37 1772.32,875.58 1774.92,874.74 1777.63,873.82 1780.5,872.8 1783.55,871.67 1786.75,870.45 1790.08,869.16 1793.5,867.8 1796.97,866.4 1800.45,864.97 1803.9,863.53 1807.3,862.1 1810.66,860.66 1814.02,859.2 1817.38,857.72 1820.75,856.22 1824.12,854.69 1827.48,853.15 1830.84,851.58 1834.2,850 1837.55,848.4 1840.91,846.77 1844.26,845.13 1847.61,843.46 1850.95,841.78 1854.3,840.07 1857.65,838.35 1861,836.6 1864.35,834.83 1867.7,833.02 1871.05,831.19 1874.4,829.34 1877.75,827.48 1881.1,825.61 1884.45,823.75 1887.8,821.9 1891.15,820.05 1894.5,818.21 1897.85,816.36 1901.19,814.51 1904.54,812.65 1907.89,810.8 1911.25,808.95 1914.6,807.1 1918.07,805.19 1921.7,803.18 1925.41,801.14 1929.07,799.12 1932.62,797.17 1935.93,795.35 1938.93,793.7 1941.5,792.3 1943.66,791.13 1945.5,790.14 1947.07,789.31 1948.38,788.62 1949.49,788.05 1950.42,787.57 1951.21,787.16 1951.9,786.8" fill="none" stroke="#808080" stroke-width="3.3" stroke-linejoin="round" stroke-linecap="butt" />
<polyline points="1459.9,898.8 1461.41,898.67 1463.33,898.51 1465.62,898.31 1468.2,898.09 1471.02,897.86 1474.02,897.61 1477.13,897.35 1480.3,897.1 1483.62,896.84 1487.2,896.57 1490.97,896.28 1494.88,895.99 1498.87,895.69 1502.87,895.39 1506.84,895.09 1510.7,894.8 1514.49,894.51 1518.28,894.22 1522.07,893.93 1525.86,893.64 1529.64,893.36 1533.43,893.07 1537.21,892.78 1541,892.5 1544.79,892.22 1548.57,891.95 1552.36,891.67 1556.14,891.4 1559.93,891.13 1563.72,890.85 1567.51,890.58 1571.3,890.3 1575.15,890.02 1579.07,889.74 1583.03,889.46 1586.97,889.17 1590.86,888.89 1594.64,888.6 1598.27,888.3 1601.7,888 1604.95,887.69 1608.06,887.36 1611.04,887.02 1613.91,886.68 1616.67,886.34 1619.33,886.01 1621.9,885.7 1624.4,885.4 1626.8,885.12 1629.07,884.85 1631.23,884.6 1633.31,884.35 1635.32,884.11 1637.28,883.87 1639.2,883.64 1641.1,883.4 1642.97,883.16 1644.77,882.93 1646.53,882.7 1648.24,882.47 1649.91,882.24 1651.56,882.02 1653.18,881.81 1654.8,881.6 1656.42,881.4 1658.04,881.2 1659.65,881.02 1661.23,880.83 1662.76,880.65 1664.23,880.47 1665.61,880.29 1666.9,880.1 1668.08,879.91 1669.15,879.73 1670.15,879.55 1671.08,879.37 1671.96,879.18 1672.81,879 1673.65,878.8 1674.5,878.6 1675.33,878.4 1676.13,878.19 1676.9,877.99 1677.65,877.78 1678.39,877.56 1679.12,877.33 1679.85,877.07 1680.6,876.8 1681.35,876.5 1682.1,876.19 1682.85,875.87 1683.6,875.52 1684.35,875.17 1685.1,874.79 1685.85,874.4 1686.6,874 1687.35,873.58 1688.08,873.16 1688.81,872.72 1689.55,872.27 1690.3,871.79 1691.07,871.29 1691.87,870.76 1692.7,870.2 1693.58,869.6 1694.49,868.96 1695.44,868.3 1696.41,867.61 1697.38,866.9 1698.36,866.17 1699.34,865.44 1700.3,864.7 1701.17,864.03 1701.94,863.45 1702.65,862.9 1703.39,862.32 1704.22,861.64 1705.21,860.8 1706.41,859.74 1707.9,858.4 1709.67,856.79 1711.64,854.97 1713.81,852.96 1716.14,850.78 1718.63,848.44 1721.25,845.95 1723.98,843.33 1726.8,840.6 1729.78,837.69 1732.96,834.57 1736.31,831.27 1739.76,827.85 1743.27,824.35 1746.79,820.81 1750.29,817.28 1753.7,813.8 1757.05,810.35 1760.41,806.88 1763.76,803.38 1767.11,799.87 1770.45,796.33 1773.8,792.77 1777.15,789.2 1780.5,785.6 1783.85,781.98 1787.2,778.35 1790.55,774.69 1793.89,771.01 1797.24,767.31 1800.59,763.6 1803.95,759.86 1807.3,756.1 1810.66,752.31 1814.02,748.49 1817.38,744.65 1820.75,740.79 1824.12,736.91 1827.48,733.04 1830.84,729.16 1834.2,725.3 1837.55,721.45 1840.91,717.61 1844.26,713.78 1847.61,709.94 1850.95,706.09 1854.3,702.22 1857.65,698.33 1861,694.4 1864.35,690.44 1867.7,686.44 1871.05,682.42 1874.4,678.38 1877.75,674.33 1881.1,670.28 1884.45,666.23 1887.8,662.2 1891.15,658.17 1894.5,654.12 1897.85,650.06 1901.19,646.01 1904.54,641.97 1907.89,637.95 1911.25,633.96 1914.6,630 1918.07,625.95 1921.7,621.76 1925.41,617.51 1929.07,613.33 1932.62,609.3 1935.93,605.53 1938.93,602.13 1941.5,599.2 1943.66,596.74 1945.5,594.64 1947.07,592.86 1948.38,591.38 1949.49,590.13 1950.42,589.08 1951.21,588.18 1951.9,587.4" fill="none" stroke="#ff9090" stroke-width="3.3" stroke-linejoin="round" stroke-linecap="butt" />
</g>
<line x1="1598.6" y1="839.9" x2="1629.84" y2="871.88" stroke="#3bb0b0" stroke-width="4.2" />
<polygon points="1640.8,883.1 1616.68,871.29 1629.84,871.88 1629.56,858.71" fill="#3bb0b0"/>
<rect x="1459.9" y="530.5" width="492" height="392.1" fill="none" stroke="#000" stroke-width="2.1"/>
<line x1="1459.9" y1="910.7" x2="1453.4" y2="910.7" stroke="#000" stroke-width="1.7" />
<line x1="1459.9" y1="859.58" x2="1453.4" y2="859.58" stroke="#000" stroke-width="1.7" />
<line x1="1459.9" y1="808.46" x2="1453.4" y2="808.46" stroke="#000" stroke-width="1.7" />
<line x1="1459.9" y1="757.34" x2="1453.4" y2="757.34" stroke="#000" stroke-width="1.7" />
<line x1="1459.9" y1="706.22" x2="1453.4" y2="706.22" stroke="#000" stroke-width="1.7" />
<line x1="1459.9" y1="655.1" x2="1453.4" y2="655.1" stroke="#000" stroke-width="1.7" />
<line x1="1459.9" y1="603.98" x2="1453.4" y2="603.98" stroke="#000" stroke-width="1.7" />
<line x1="1459.9" y1="552.86" x2="1453.4" y2="552.86" stroke="#000" stroke-width="1.7" />
<line x1="1459.9" y1="885.14" x2="1456.1" y2="885.14" stroke="#000" stroke-width="1.7" />
<line x1="1459.9" y1="834.02" x2="1456.1" y2="834.02" stroke="#000" stroke-width="1.7" />
<line x1="1459.9" y1="782.9" x2="1456.1" y2="782.9" stroke="#000" stroke-width="1.7" />
<line x1="1459.9" y1="731.78" x2="1456.1" y2="731.78" stroke="#000" stroke-width="1.7" />
<line x1="1459.9" y1="680.66" x2="1456.1" y2="680.66" stroke="#000" stroke-width="1.7" />
<line x1="1459.9" y1="629.54" x2="1456.1" y2="629.54" stroke="#000" stroke-width="1.7" />
<line x1="1459.9" y1="578.42" x2="1456.1" y2="578.42" stroke="#000" stroke-width="1.7" />
<line x1="1514.63" y1="922.6" x2="1514.63" y2="929.1" stroke="#000" stroke-width="1.7" />
<line x1="1624.09" y1="922.6" x2="1624.09" y2="929.1" stroke="#000" stroke-width="1.7" />
<line x1="1733.55" y1="922.6" x2="1733.55" y2="929.1" stroke="#000" stroke-width="1.7" />
<line x1="1843.01" y1="922.6" x2="1843.01" y2="929.1" stroke="#000" stroke-width="1.7" />
<line x1="1952.47" y1="922.6" x2="1952.47" y2="929.1" stroke="#000" stroke-width="1.7" />
<line x1="1459.9" y1="922.6" x2="1459.9" y2="926.4" stroke="#000" stroke-width="1.7" />
<line x1="1569.36" y1="922.6" x2="1569.36" y2="926.4" stroke="#000" stroke-width="1.7" />
<line x1="1678.82" y1="922.6" x2="1678.82" y2="926.4" stroke="#000" stroke-width="1.7" />
<line x1="1788.28" y1="922.6" x2="1788.28" y2="926.4" stroke="#000" stroke-width="1.7" />
<line x1="1897.74" y1="922.6" x2="1897.74" y2="926.4" stroke="#000" stroke-width="1.7" />
<text transform="translate(1448.5 920.5) scale(0.96 1)" font-size="31.7" text-anchor="end" fill="#000" stroke="#000" stroke-width="0.45" >0</text>
<text transform="translate(1448.5 869.38) scale(0.96 1)" font-size="31.7" text-anchor="end" fill="#000" stroke="#000" stroke-width="0.45" >20</text>
<text transform="translate(1448.5 818.26) scale(0.96 1)" font-size="31.7" text-anchor="end" fill="#000" stroke="#000" stroke-width="0.45" >40</text>
<text transform="translate(1448.5 767.14) scale(0.96 1)" font-size="31.7" text-anchor="end" fill="#000" stroke="#000" stroke-width="0.45" >60</text>
<text transform="translate(1448.5 716.02) scale(0.96 1)" font-size="31.7" text-anchor="end" fill="#000" stroke="#000" stroke-width="0.45" >80</text>
<text transform="translate(1448.5 664.9) scale(0.96 1)" font-size="31.7" text-anchor="end" fill="#000" stroke="#000" stroke-width="0.45" >100</text>
<text transform="translate(1448.5 613.78) scale(0.96 1)" font-size="31.7" text-anchor="end" fill="#000" stroke="#000" stroke-width="0.45" >120</text>
<text transform="translate(1448.5 562.66) scale(0.96 1)" font-size="31.7" text-anchor="end" fill="#000" stroke="#000" stroke-width="0.45" >140</text>
<text transform="translate(1514.63 958.5) scale(0.96 1)" font-size="31.7" text-anchor="middle" fill="#000" stroke="#000" stroke-width="0.45" >1.2</text>
<text transform="translate(1624.09 958.5) scale(0.96 1)" font-size="31.7" text-anchor="middle" fill="#000" stroke="#000" stroke-width="0.45" >1.4</text>
<text transform="translate(1733.55 958.5) scale(0.96 1)" font-size="31.7" text-anchor="middle" fill="#000" stroke="#000" stroke-width="0.45" >1.6</text>
<text transform="translate(1843.01 958.5) scale(0.96 1)" font-size="31.7" text-anchor="middle" fill="#000" stroke="#000" stroke-width="0.45" >1.8</text>
<text transform="translate(1952.47 958.5) scale(0.96 1)" font-size="31.7" text-anchor="middle" fill="#000" stroke="#000" stroke-width="0.45" >2.0</text>
<text transform="translate(1711 1008.3) scale(1.008 1)" font-size="31.7" text-anchor="middle" fill="#000" stroke="#000" stroke-width="0.45" >Cell voltage (V)</text>
<text transform="translate(1373 727) rotate(-90) scale(1.008 1)" font-size="31.7" text-anchor="middle" fill="#000" stroke="#000" stroke-width="0.45" ><tspan font-style="italic">j</tspan> (mA cm<tspan font-size="21" dy="-13">−2</tspan><tspan dy="13" font-size="1">&#8203;</tspan>)</text>
<text x="1342" y="561.5" font-size="57.5" fill="#000" stroke="#000" stroke-width="0.65">e</text>
<text transform="translate(1473.3 570.8) scale(1.008 1)" font-size="31.7" text-anchor="start" fill="#000" stroke="#000" stroke-width="0.45" >Overall water electrolysis</text>
<line x1="1474.9" y1="610.6" x2="1513.8" y2="610.6" stroke="#ff9090" stroke-width="3.3" />
<text transform="translate(1520 615.9) scale(1.008 1)" font-size="31.7" text-anchor="start" fill="#000" stroke="#000" stroke-width="0.45" >RuNi/NC ǁ RuO<tspan font-size="21" dy="7">2</tspan><tspan dy="-7" font-size="1">&#8203;</tspan></text>
<line x1="1474.9" y1="661.8" x2="1513.8" y2="661.8" stroke="#808080" stroke-width="3.3" />
<text transform="translate(1521.5 667.1) scale(1.008 1)" font-size="31.7" text-anchor="start" fill="#000" stroke="#000" stroke-width="0.45" >Pt/C ǁ RuO<tspan font-size="21" dy="7">2</tspan><tspan dy="-7" font-size="1">&#8203;</tspan></text>
<text transform="translate(1505.5 840.7) scale(1.008 1)" font-size="31.7" text-anchor="start" fill="#000" stroke="#000" stroke-width="0.45" >1.42 V</text>
</g>
<g>
<polyline points="116.6,1204.6 118.5,1202.3 123.5,1200.7 131.8,1201.5 145,1201.4 163.5,1201.5 170,1200.3 176.8,1198.8 190,1198.4 201.9,1198.2 207,1199.2 213.5,1200.5 240.2,1200.5 270,1200 300,1199.6 316.7,1199.3 345,1198.5 356.7,1196.5 370,1196 380,1194.8 388.4,1196.5 397,1195.6 406.8,1194.8 433.5,1194.8 438.5,1195.5 448,1194.4 458.5,1193.5 483.5,1192.3 489,1193.2 493.5,1194.3 500.2,1192.7 508.5,1194 516,1192.3 522.7,1190.2 527,1191.6 531.9,1192.7 546.9,1193.5 566.9,1193.5 592,1192.7 619.1,1191.5" fill="none" stroke="#fb6262" stroke-width="3.1" stroke-linejoin="round" stroke-linecap="butt" />
<rect x="116.6" y="1052" width="502.5" height="385.4" fill="none" stroke="#000" stroke-width="2.1"/>
<line x1="116.6" y1="1062.01" x2="110.1" y2="1062.01" stroke="#000" stroke-width="1.7" />
<line x1="116.6" y1="1124.58" x2="110.1" y2="1124.58" stroke="#000" stroke-width="1.7" />
<line x1="116.6" y1="1187.14" x2="110.1" y2="1187.14" stroke="#000" stroke-width="1.7" />
<line x1="116.6" y1="1249.71" x2="110.1" y2="1249.71" stroke="#000" stroke-width="1.7" />
<line x1="116.6" y1="1312.27" x2="110.1" y2="1312.27" stroke="#000" stroke-width="1.7" />
<line x1="116.6" y1="1374.84" x2="110.1" y2="1374.84" stroke="#000" stroke-width="1.7" />
<line x1="116.6" y1="1437.4" x2="110.1" y2="1437.4" stroke="#000" stroke-width="1.7" />
<line x1="116.6" y1="1093.29" x2="112.8" y2="1093.29" stroke="#000" stroke-width="1.7" />
<line x1="116.6" y1="1155.86" x2="112.8" y2="1155.86" stroke="#000" stroke-width="1.7" />
<line x1="116.6" y1="1218.42" x2="112.8" y2="1218.42" stroke="#000" stroke-width="1.7" />
<line x1="116.6" y1="1280.99" x2="112.8" y2="1280.99" stroke="#000" stroke-width="1.7" />
<line x1="116.6" y1="1343.55" x2="112.8" y2="1343.55" stroke="#000" stroke-width="1.7" />
<line x1="116.6" y1="1406.12" x2="112.8" y2="1406.12" stroke="#000" stroke-width="1.7" />
<line x1="116.4" y1="1437.4" x2="116.4" y2="1443.9" stroke="#000" stroke-width="1.7" />
<line x1="242.05" y1="1437.4" x2="242.05" y2="1443.9" stroke="#000" stroke-width="1.7" />
<line x1="367.7" y1="1437.4" x2="367.7" y2="1443.9" stroke="#000" stroke-width="1.7" />
<line x1="493.35" y1="1437.4" x2="493.35" y2="1443.9" stroke="#000" stroke-width="1.7" />
<line x1="619" y1="1437.4" x2="619" y2="1443.9" stroke="#000" stroke-width="1.7" />
<line x1="179.22" y1="1437.4" x2="179.22" y2="1441.2" stroke="#000" stroke-width="1.7" />
<line x1="304.88" y1="1437.4" x2="304.88" y2="1441.2" stroke="#000" stroke-width="1.7" />
<line x1="430.52" y1="1437.4" x2="430.52" y2="1441.2" stroke="#000" stroke-width="1.7" />
<line x1="556.17" y1="1437.4" x2="556.17" y2="1441.2" stroke="#000" stroke-width="1.7" />
<text transform="translate(101.8 1071.41)" font-size="30.8" text-anchor="end" fill="#000" stroke="#000" stroke-width="0.45" >2.1</text>
<text transform="translate(101.8 1133.98)" font-size="30.8" text-anchor="end" fill="#000" stroke="#000" stroke-width="0.45" >1.8</text>
<text transform="translate(101.8 1196.54)" font-size="30.8" text-anchor="end" fill="#000" stroke="#000" stroke-width="0.45" >1.5</text>
<text transform="translate(101.8 1259.11)" font-size="30.8" text-anchor="end" fill="#000" stroke="#000" stroke-width="0.45" >1.2</text>
<text transform="translate(101.8 1321.67)" font-size="30.8" text-anchor="end" fill="#000" stroke="#000" stroke-width="0.45" >0.9</text>
<text transform="translate(101.8 1384.24)" font-size="30.8" text-anchor="end" fill="#000" stroke="#000" stroke-width="0.45" >0.6</text>
<text transform="translate(101.8 1446.8)" font-size="30.8" text-anchor="end" fill="#000" stroke="#000" stroke-width="0.45" >0.3</text>
<text transform="translate(116.4 1473.3)" font-size="30.8" text-anchor="middle" fill="#000" stroke="#000" stroke-width="0.45" >0</text>
<text transform="translate(242.05 1473.3)" font-size="30.8" text-anchor="middle" fill="#000" stroke="#000" stroke-width="0.45" >10</text>
<text transform="translate(367.7 1473.3)" font-size="30.8" text-anchor="middle" fill="#000" stroke="#000" stroke-width="0.45" >20</text>
<text transform="translate(493.35 1473.3)" font-size="30.8" text-anchor="middle" fill="#000" stroke="#000" stroke-width="0.45" >30</text>
<text transform="translate(619 1473.3)" font-size="30.8" text-anchor="middle" fill="#000" stroke="#000" stroke-width="0.45" >40</text>
<text transform="translate(367 1518) scale(1.03 1)" font-size="31.7" text-anchor="middle" fill="#000" stroke="#000" stroke-width="0.45" >Time (h)</text>
<text transform="translate(30.5 1243.5) rotate(-90) scale(1.03 1)" font-size="31.7" text-anchor="middle" fill="#000" stroke="#000" stroke-width="0.45" >Cell Voltage (V)</text>
<text x="12" y="1090" font-size="57.5" fill="#000" stroke="#000" stroke-width="0.65">f</text>
<text transform="translate(127.2 1086.7) scale(1.03 1)" font-size="31.7" text-anchor="start" fill="#000" stroke="#000" stroke-width="0.45" >Overall water electrolysis</text>
<text transform="translate(126.8 1132.6) scale(1.03 1)" font-size="31.7" text-anchor="start" fill="#000" stroke="#000" stroke-width="0.45" >RuNi/NC ǁ RuO<tspan font-size="22" dy="8">2</tspan><tspan dy="-8" font-size="1">&#8203;</tspan>@10 mA cm<tspan font-size="22" dy="-11.7">−2</tspan><tspan dy="11.7" font-size="1">&#8203;</tspan></text>
</g>
<g>
<clipPath id="cg"><rect x="789.4" y="1052.0" width="498.19999999999993" height="385.20000000000005"/></clipPath>
<g clip-path="url(#cg)">
<line x1="789.4" y1="1385.6" x2="1280" y2="1385.6" stroke="#149efa" stroke-width="4.5" stroke-dasharray="10.8 7.6"/>
<polyline points="789.4,1412.3 791.19,1412.21 793.49,1412.09 796.23,1411.95 799.32,1411.79 802.66,1411.61 806.18,1411.42 809.79,1411.21 813.4,1411 817.12,1410.77 821.07,1410.51 825.2,1410.23 829.46,1409.94 833.8,1409.65 838.15,1409.36 842.47,1409.07 846.7,1408.8 850.96,1408.54 855.36,1408.28 859.81,1408.02 864.23,1407.77 868.55,1407.52 872.69,1407.27 876.57,1407.03 880.1,1406.8 883.29,1406.58 886.2,1406.37 888.87,1406.18 891.35,1405.98 893.67,1405.78 895.88,1405.57 898.01,1405.35 900.1,1405.1 902.07,1404.82 903.84,1404.52 905.46,1404.21 907.01,1403.88 908.52,1403.55 910.07,1403.22 911.71,1402.9 913.5,1402.6 915.43,1402.3 917.45,1402 919.53,1401.7 921.65,1401.41 923.8,1401.13 925.95,1400.87 928.09,1400.62 930.2,1400.4 932.28,1400.21 934.35,1400.04 936.43,1399.9 938.5,1399.77 940.57,1399.65 942.65,1399.54 944.72,1399.42 946.8,1399.3 948.91,1399.17 951.05,1399.05 953.2,1398.92 955.35,1398.8 957.47,1398.68 959.55,1398.58 961.57,1398.48 963.5,1398.4 965.35,1398.33 967.12,1398.26 968.85,1398.2 970.52,1398.15 972.15,1398.11 973.75,1398.09 975.33,1398.09 976.9,1398.1 978.4,1398.14 979.81,1398.2 981.16,1398.28 982.49,1398.38 983.86,1398.49 985.28,1398.59 986.82,1398.7 988.5,1398.8 990.37,1398.9 992.39,1399.03 994.53,1399.15 996.74,1399.28 998.96,1399.4 1001.14,1399.5 1003.24,1399.57 1005.2,1399.6 1007.04,1399.6 1008.82,1399.58 1010.54,1399.54 1012.21,1399.47 1013.84,1399.39 1015.45,1399.28 1017.03,1399.15 1018.6,1399 1020.16,1398.82 1021.68,1398.61 1023.19,1398.37 1024.66,1398.12 1026.11,1397.85 1027.53,1397.57 1028.93,1397.28 1030.3,1397 1031.63,1396.72 1032.92,1396.44 1034.17,1396.15 1035.41,1395.85 1036.62,1395.54 1037.84,1395.21 1039.06,1394.87 1040.3,1394.5 1041.56,1394.11 1042.82,1393.69 1044.09,1393.25 1045.36,1392.79 1046.62,1392.33 1047.87,1391.85 1049.1,1391.38 1050.3,1390.9 1051.44,1390.43 1052.52,1389.98 1053.57,1389.52 1054.61,1389.06 1055.67,1388.57 1056.79,1388.06 1057.99,1387.5 1059.3,1386.9 1060.74,1386.24 1062.29,1385.51 1063.92,1384.75 1065.6,1383.96 1067.31,1383.15 1069.04,1382.35 1070.74,1381.56 1072.4,1380.8 1074.03,1380.07 1075.65,1379.35 1077.28,1378.65 1078.9,1377.94 1080.52,1377.24 1082.15,1376.54 1083.77,1375.82 1085.4,1375.1 1087.03,1374.36 1088.67,1373.62 1090.31,1372.86 1091.94,1372.11 1093.58,1371.35 1095.22,1370.59 1096.86,1369.84 1098.5,1369.1 1100.14,1368.37 1101.78,1367.65 1103.41,1366.94 1105.05,1366.23 1106.69,1365.52 1108.32,1364.79 1109.96,1364.06 1111.6,1363.3 1113.24,1362.53 1114.88,1361.76 1116.51,1360.98 1118.15,1360.18 1119.79,1359.37 1121.42,1358.54 1123.06,1357.68 1124.7,1356.8 1126.34,1355.89 1127.98,1354.95 1129.61,1354 1131.25,1353.02 1132.89,1352.02 1134.53,1351 1136.16,1349.96 1137.8,1348.9 1139.44,1347.82 1141.08,1346.72 1142.71,1345.6 1144.35,1344.46 1145.99,1343.3 1147.63,1342.11 1149.26,1340.92 1150.9,1339.7 1152.54,1338.48 1154.18,1337.25 1155.81,1336.01 1157.45,1334.74 1159.09,1333.45 1160.73,1332.12 1162.36,1330.74 1164,1329.3 1165.64,1327.8 1167.28,1326.25 1168.91,1324.64 1170.55,1323 1172.19,1321.33 1173.82,1319.63 1175.46,1317.92 1177.1,1316.2 1178.74,1314.47 1180.38,1312.72 1182.02,1310.95 1183.66,1309.16 1185.29,1307.35 1186.93,1305.52 1188.57,1303.67 1190.2,1301.8 1191.74,1300.01 1193.15,1298.33 1194.5,1296.7 1195.88,1295.01 1197.36,1293.19 1199.02,1291.16 1200.94,1288.82 1203.2,1286.1 1205.84,1282.93 1208.82,1279.36 1212.06,1275.48 1215.48,1271.39 1218.99,1267.17 1222.54,1262.92 1226.03,1258.74 1229.4,1254.7 1232.68,1250.77 1235.95,1246.83 1239.23,1242.89 1242.5,1238.95 1245.78,1235.01 1249.05,1231.07 1252.33,1227.13 1255.6,1223.2 1259.01,1219.1 1262.63,1214.76 1266.32,1210.33 1269.97,1205.95 1273.47,1201.76 1276.68,1197.91 1279.5,1194.54 1281.8,1191.8 1283.54,1189.73 1284.82,1188.23 1285.72,1187.18 1286.34,1186.49 1286.75,1186.04 1287.04,1185.72 1287.29,1185.45 1287.6,1185.1" fill="none" stroke="#808080" stroke-width="3.3" stroke-linejoin="round" stroke-linecap="butt" />
<polyline points="789.4,1405.1 790.33,1404.99 791.55,1404.85 792.99,1404.67 794.61,1404.47 796.35,1404.28 798.15,1404.09 799.95,1403.93 801.7,1403.8 803.4,1403.7 805.1,1403.61 806.83,1403.53 808.61,1403.46 810.47,1403.42 812.42,1403.39 814.49,1403.38 816.7,1403.4 819.07,1403.45 821.58,1403.54 824.2,1403.65 826.93,1403.78 829.73,1403.91 832.59,1404.05 835.48,1404.18 838.4,1404.3 841.42,1404.41 844.61,1404.53 847.9,1404.66 851.21,1404.77 854.49,1404.88 857.66,1404.98 860.65,1405.05 863.4,1405.1 865.88,1405.12 868.16,1405.13 870.27,1405.12 872.27,1405.09 874.2,1405.04 876.12,1404.98 878.07,1404.9 880.1,1404.8 882.19,1404.68 884.27,1404.54 886.36,1404.38 888.45,1404.21 890.54,1404.02 892.63,1403.82 894.71,1403.61 896.8,1403.4 898.89,1403.18 900.97,1402.96 903.06,1402.72 905.15,1402.48 907.24,1402.22 909.32,1401.96 911.41,1401.68 913.5,1401.4 915.59,1401.11 917.68,1400.8 919.77,1400.48 921.86,1400.16 923.94,1399.82 926.03,1399.49 928.12,1399.14 930.2,1398.8 932.28,1398.45 934.35,1398.11 936.43,1397.75 938.5,1397.39 940.57,1397.03 942.65,1396.66 944.72,1396.28 946.8,1395.9 948.88,1395.51 950.97,1395.1 953.06,1394.69 955.14,1394.28 957.23,1393.86 959.32,1393.43 961.41,1393.02 963.5,1392.6 965.59,1392.19 967.67,1391.79 969.76,1391.39 971.85,1390.99 973.94,1390.58 976.02,1390.17 978.11,1389.74 980.2,1389.3 982.29,1388.84 984.38,1388.37 986.46,1387.89 988.55,1387.39 990.64,1386.9 992.73,1386.4 994.81,1385.9 996.9,1385.4 999.06,1384.89 1001.32,1384.36 1003.62,1383.81 1005.89,1383.27 1008.09,1382.74 1010.15,1382.25 1012.01,1381.8 1013.6,1381.4 1014.85,1381.09 1015.77,1380.85 1016.46,1380.67 1017.03,1380.52 1017.56,1380.36 1018.17,1380.17 1018.95,1379.93 1020,1379.6 1021.32,1379.19 1022.8,1378.74 1024.42,1378.24 1026.13,1377.7 1027.89,1377.13 1029.67,1376.54 1031.42,1375.93 1033.1,1375.3 1034.74,1374.66 1036.38,1374 1038.01,1373.32 1039.65,1372.62 1041.29,1371.89 1042.92,1371.13 1044.56,1370.33 1046.2,1369.5 1047.84,1368.64 1049.48,1367.75 1051.11,1366.83 1052.75,1365.88 1054.39,1364.89 1056.03,1363.87 1057.66,1362.8 1059.3,1361.7 1060.94,1360.55 1062.58,1359.34 1064.22,1358.09 1065.86,1356.8 1067.49,1355.49 1069.13,1354.16 1070.77,1352.83 1072.4,1351.5 1074.03,1350.17 1075.65,1348.82 1077.28,1347.47 1078.9,1346.1 1080.52,1344.72 1082.15,1343.33 1083.77,1341.92 1085.4,1340.5 1087.03,1339.07 1088.67,1337.64 1090.31,1336.2 1091.94,1334.74 1093.58,1333.27 1095.22,1331.77 1096.86,1330.25 1098.5,1328.7 1100.14,1327.11 1101.78,1325.49 1103.41,1323.84 1105.05,1322.16 1106.69,1320.48 1108.32,1318.78 1109.96,1317.09 1111.6,1315.4 1113.15,1313.82 1114.57,1312.38 1115.94,1310.99 1117.33,1309.57 1118.83,1308.03 1120.5,1306.28 1122.44,1304.23 1124.7,1301.8 1127.35,1298.95 1130.33,1295.73 1133.57,1292.23 1136.98,1288.51 1140.5,1284.66 1144.04,1280.74 1147.54,1276.83 1150.9,1273 1154.18,1269.21 1157.45,1265.37 1160.73,1261.48 1164.01,1257.55 1167.28,1253.59 1170.56,1249.61 1173.83,1245.61 1177.1,1241.6 1180.37,1237.58 1183.63,1233.56 1186.89,1229.51 1190.15,1225.44 1193.41,1221.34 1196.67,1217.21 1199.93,1213.03 1203.2,1208.8 1206.47,1204.51 1209.74,1200.15 1213.02,1195.75 1216.29,1191.31 1219.57,1186.85 1222.85,1182.38 1226.12,1177.93 1229.4,1173.5 1232.68,1169.09 1235.95,1164.68 1239.23,1160.27 1242.5,1155.86 1245.78,1151.44 1249.05,1147.03 1252.33,1142.62 1255.6,1138.2 1259.01,1133.58 1262.63,1128.68 1266.32,1123.67 1269.97,1118.71 1273.47,1113.98 1276.68,1109.63 1279.5,1105.85 1281.8,1102.8 1283.54,1100.54 1284.82,1098.95 1285.72,1097.89 1286.34,1097.24 1286.75,1096.86 1287.04,1096.63 1287.29,1096.42 1287.6,1096.1" fill="none" stroke="#fb6a6a" stroke-width="3.3" stroke-linejoin="round" stroke-linecap="butt" />
</g>
<line x1="951" y1="1338.4" x2="984.51" y2="1371.31" stroke="#149efa" stroke-width="4.2" />
<polygon points="995.7,1382.3 971.34,1370.99 984.51,1371.31 983.96,1358.15" fill="#149efa"/>
<rect x="789.4" y="1052" width="498.2" height="385.2" fill="none" stroke="#000" stroke-width="2.1"/>
<line x1="789.4" y1="1411.3" x2="782.9" y2="1411.3" stroke="#000" stroke-width="1.7" />
<line x1="789.4" y1="1359.56" x2="782.9" y2="1359.56" stroke="#000" stroke-width="1.7" />
<line x1="789.4" y1="1307.82" x2="782.9" y2="1307.82" stroke="#000" stroke-width="1.7" />
<line x1="789.4" y1="1256.08" x2="782.9" y2="1256.08" stroke="#000" stroke-width="1.7" />
<line x1="789.4" y1="1204.34" x2="782.9" y2="1204.34" stroke="#000" stroke-width="1.7" />
<line x1="789.4" y1="1152.6" x2="782.9" y2="1152.6" stroke="#000" stroke-width="1.7" />
<line x1="789.4" y1="1100.86" x2="782.9" y2="1100.86" stroke="#000" stroke-width="1.7" />
<line x1="789.4" y1="1385.43" x2="785.6" y2="1385.43" stroke="#000" stroke-width="1.7" />
<line x1="789.4" y1="1333.69" x2="785.6" y2="1333.69" stroke="#000" stroke-width="1.7" />
<line x1="789.4" y1="1281.95" x2="785.6" y2="1281.95" stroke="#000" stroke-width="1.7" />
<line x1="789.4" y1="1230.21" x2="785.6" y2="1230.21" stroke="#000" stroke-width="1.7" />
<line x1="789.4" y1="1178.47" x2="785.6" y2="1178.47" stroke="#000" stroke-width="1.7" />
<line x1="789.4" y1="1126.73" x2="785.6" y2="1126.73" stroke="#000" stroke-width="1.7" />
<line x1="789.4" y1="1074.99" x2="785.6" y2="1074.99" stroke="#000" stroke-width="1.7" />
<line x1="789.5" y1="1437.2" x2="789.5" y2="1443.7" stroke="#000" stroke-width="1.7" />
<line x1="897.7" y1="1437.2" x2="897.7" y2="1443.7" stroke="#000" stroke-width="1.7" />
<line x1="1005.9" y1="1437.2" x2="1005.9" y2="1443.7" stroke="#000" stroke-width="1.7" />
<line x1="1114.1" y1="1437.2" x2="1114.1" y2="1443.7" stroke="#000" stroke-width="1.7" />
<line x1="1222.3" y1="1437.2" x2="1222.3" y2="1443.7" stroke="#000" stroke-width="1.7" />
<line x1="843.6" y1="1437.2" x2="843.6" y2="1441" stroke="#000" stroke-width="1.7" />
<line x1="951.8" y1="1437.2" x2="951.8" y2="1441" stroke="#000" stroke-width="1.7" />
<line x1="1060" y1="1437.2" x2="1060" y2="1441" stroke="#000" stroke-width="1.7" />
<line x1="1168.2" y1="1437.2" x2="1168.2" y2="1441" stroke="#000" stroke-width="1.7" />
<line x1="1276.4" y1="1437.2" x2="1276.4" y2="1441" stroke="#000" stroke-width="1.7" />
<text transform="translate(777.5 1420.7)" font-size="30.8" text-anchor="end" fill="#000" stroke="#000" stroke-width="0.45" >0</text>
<text transform="translate(777.5 1368.96)" font-size="30.8" text-anchor="end" fill="#000" stroke="#000" stroke-width="0.45" >20</text>
<text transform="translate(777.5 1317.22)" font-size="30.8" text-anchor="end" fill="#000" stroke="#000" stroke-width="0.45" >40</text>
<text transform="translate(777.5 1265.48)" font-size="30.8" text-anchor="end" fill="#000" stroke="#000" stroke-width="0.45" >60</text>
<text transform="translate(777.5 1213.74)" font-size="30.8" text-anchor="end" fill="#000" stroke="#000" stroke-width="0.45" >80</text>
<text transform="translate(777.5 1162)" font-size="30.8" text-anchor="end" fill="#000" stroke="#000" stroke-width="0.45" >100</text>
<text transform="translate(777.5 1110.26)" font-size="30.8" text-anchor="end" fill="#000" stroke="#000" stroke-width="0.45" >120</text>
<text transform="translate(789.5 1472.8)" font-size="30.8" text-anchor="middle" fill="#000" stroke="#000" stroke-width="0.45" >1.0</text>
<text transform="translate(897.7 1472.8)" font-size="30.8" text-anchor="middle" fill="#000" stroke="#000" stroke-width="0.45" >1.5</text>
<text transform="translate(1005.9 1472.8)" font-size="30.8" text-anchor="middle" fill="#000" stroke="#000" stroke-width="0.45" >2.0</text>
<text transform="translate(1114.1 1472.8)" font-size="30.8" text-anchor="middle" fill="#000" stroke="#000" stroke-width="0.45" >2.5</text>
<text transform="translate(1222.3 1472.8)" font-size="30.8" text-anchor="middle" fill="#000" stroke="#000" stroke-width="0.45" >3.0</text>
<text transform="translate(1028 1518) scale(1.02 1)" font-size="31.7" text-anchor="middle" fill="#000" stroke="#000" stroke-width="0.45" >Cell voltage (V)</text>
<text transform="translate(700.5 1255) rotate(-90) scale(1.02 1)" font-size="31.7" text-anchor="middle" fill="#000" stroke="#000" stroke-width="0.45" ><tspan font-style="italic">j</tspan> (mA cm<tspan font-size="22" dy="-12">−2</tspan><tspan dy="12" font-size="1">&#8203;</tspan>)</text>
<text x="675.5" y="1080" font-size="57.5" fill="#000" stroke="#000" stroke-width="0.65">g</text>
<text transform="translate(797 1088.4) scale(1.02 1)" font-size="31.7" text-anchor="start" fill="#000" stroke="#000" stroke-width="0.45" >Chlor-alkali electrolysis, 90 ºC</text>
<line x1="797.6" y1="1126.8" x2="835.5" y2="1126.8" stroke="#fb6a6a" stroke-width="3.3" />
<text transform="translate(839.3 1132.3) scale(1.02 1)" font-size="31.7" text-anchor="start" fill="#000" stroke="#000" stroke-width="0.45" >RuNi/NC ǁ RuO<tspan font-size="22" dy="8">2</tspan><tspan dy="-8" font-size="1">&#8203;</tspan></text>
<line x1="797.6" y1="1177.6" x2="835.5" y2="1177.6" stroke="#808080" stroke-width="3.3" />
<text transform="translate(840.2 1183) scale(1.02 1)" font-size="31.7" text-anchor="start" fill="#000" stroke="#000" stroke-width="0.45" >Pt/C ǁ RuO<tspan font-size="22" dy="8">2</tspan><tspan dy="-8" font-size="1">&#8203;</tspan></text>
<text transform="translate(856 1341.4) scale(1.02 1)" font-size="31.7" text-anchor="start" fill="#000" stroke="#000" stroke-width="0.45" >1.96 V</text>
</g>
<g>
<polyline points="1459.9,1255.5 1459.9,1204.3 1460.5,1205.47 1461.8,1208.19 1463.1,1210.55 1464.4,1211.22 1465.7,1212.5 1467,1213.04 1468.3,1212.49 1469.6,1212.62 1470.9,1211.93 1472.2,1212.01 1473.5,1211.41 1474.8,1211.7 1476.1,1212.28 1477.4,1212.91 1478.7,1212.55 1480,1212.91 1481.3,1213.31 1482.6,1213.6 1483.9,1213.27 1485.2,1213.11 1486.5,1213.63 1487.8,1212.79 1489.1,1213.42 1490.4,1212.69 1491.7,1212.34 1493,1212.1 1494.3,1212.05 1495.6,1212.29 1496.9,1211.47 1498.2,1211.32 1499.5,1210.86 1500.8,1210.11 1502.1,1209.76 1503.4,1208.81 1504.7,1208.3 1506,1207.83 1507.3,1207.6 1508.6,1206.71 1509.9,1205.95 1511.2,1205.54 1512.5,1204.76 1513.8,1203.95 1515.1,1203.66 1516.4,1202.83 1517.7,1201.69 1519,1201.25 1520.3,1200.52 1521.6,1200.84 1522.9,1200.71 1524.2,1200.31 1525.5,1200.93 1526.8,1200.16 1528.1,1199.75 1529.4,1199.33 1530.7,1198.06 1532,1197.57 1533.3,1195.63 1534.6,1194.67 1535.9,1193.22 1537.2,1191.67 1538.5,1191.12 1539.8,1189.79 1541.1,1189.3 1542.4,1188.38 1543.7,1187.61 1545,1187.06 1546.3,1186.97 1547.6,1186.63 1548.9,1185.78 1550.2,1185.51 1551.5,1184.54 1552.8,1184.85 1554.1,1184.61 1555.4,1184.74 1556.7,1184.39 1558,1183.72 1559.3,1183.62 1560.6,1183.69 1561.9,1182.92 1563.2,1183.12 1564.5,1182.77 1565.8,1182.69 1567.1,1182.6 1568.4,1183.2 1569.7,1182.58 1571,1182.65 1572.3,1182.74 1573.6,1183.13 1574.9,1182.38 1576.2,1182.68 1577.5,1182.73 1578.8,1182.99 1580.1,1182.89 1581.4,1182.96 1582.7,1182.47 1584,1182.64 1585.3,1182.62 1586.6,1183.14 1587.9,1183.24 1589.2,1182.55 1590.5,1182.62 1591.8,1182.71 1593.1,1182.75 1594.4,1183.01 1595.7,1183.14 1597,1182.89 1598.3,1182.67 1599.6,1183.06 1600.9,1183.03 1602.2,1183.22 1603.5,1183.59 1604.8,1183.37 1606.1,1183.22 1607.4,1183.33 1608.7,1183.4 1610,1182.86 1611.3,1183.63 1612.6,1183.54 1613.9,1183.64 1615.2,1183.59 1616.5,1183.24 1617.8,1183.26 1619.1,1183.01 1620.4,1183.5 1621.7,1183 1623,1183.02 1624.3,1183.17 1625.6,1183.14 1626.9,1183.32 1628.2,1183.07 1629.5,1183.04 1630.8,1183.19 1632.1,1183.14 1633.4,1183.38 1634.7,1183.07 1636,1183.84 1637.3,1183.6 1638.6,1183.18 1639.9,1183.28 1641.2,1183.36 1642.5,1183.38 1643.8,1183.16 1645.1,1183.81 1646.4,1183.94 1647.7,1183.47 1649,1183.42 1650.3,1182.97 1651.6,1182.9 1652.9,1183.03 1654.2,1182.87 1655.5,1183.29 1656.8,1182.6 1658.1,1182.39 1659.4,1183.13 1660.7,1182.67 1662,1182.41 1663.3,1183 1664.6,1182.77 1665.9,1183.45 1667.2,1184.09 1668.5,1184.1 1669.8,1183.87 1671.1,1183.4 1672.4,1183.42 1673.7,1183.16 1675,1183.62 1676.3,1183.33 1677.6,1183.48 1678.9,1182.99 1680.2,1182.82 1681.5,1183.27 1682.8,1183.35 1684.1,1183.15 1685.4,1183.03 1686.7,1182.96 1688,1182.82 1689.3,1182.56 1690.6,1183.03 1691.9,1183.09 1693.2,1183.01 1694.5,1183.22 1695.8,1183.82 1697.1,1184.75 1698.4,1186.09 1699.7,1187.27 1701,1187.76 1702.3,1188.82 1703.6,1189.33 1704.9,1189.76 1706.2,1189.7 1707.5,1190.03 1708.8,1190.28 1710.1,1190.29 1711.4,1190.34 1712.7,1190.76 1714,1191.06 1715.3,1191.05 1716.6,1190.76 1717.9,1190.96 1719.2,1191.14 1720.5,1190.54 1721.8,1191.1 1723.1,1191.37 1724.4,1191.21 1725.7,1191.14 1727,1190.86 1728.3,1190.54 1729.6,1191.05 1730.9,1190.6 1732.2,1190.98 1733.5,1191.09 1734.8,1190.53 1736.1,1190.5 1737.4,1190.94 1738.7,1190.7 1740,1190.16 1741.3,1190.08 1742.6,1190.06 1743.9,1190.7 1745.2,1190.57 1746.5,1189.93 1747.8,1190.5 1749.1,1187.13 1750.4,1189.7 1751.7,1190.07 1753,1190.24 1754.3,1189.87 1755.6,1189.76 1756.9,1190.62 1758.2,1190.33 1759.5,1190.22 1760.8,1190.59 1762.1,1190.14 1763.4,1190.53 1764.7,1190.49 1766,1189.94 1767.3,1189.98 1768.6,1190.01 1769.9,1189.97 1771.2,1190.28 1772.5,1189.98 1773.8,1190.13 1775.1,1189.87 1776.4,1190.57 1777.7,1190.07 1779,1190.16 1780.3,1190.28 1781.6,1190.56 1782.9,1190.09 1784.2,1190.5 1785.5,1190.09 1786.8,1190.09 1788.1,1190.04 1789.4,1189.55 1790.7,1189.9 1792,1189.63 1793.3,1189.43 1794.6,1190.12 1795.9,1189.52 1797.2,1189.75 1798.5,1189.94 1799.8,1189.76 1801.1,1189.51 1802.4,1189.65 1803.7,1189.65 1805,1189.82 1806.3,1189.18 1807.6,1189.55 1808.9,1189.23 1810.2,1189.22 1811.5,1189.63 1812.8,1189.36 1814.1,1189.37 1815.4,1189.49 1816.7,1189.53 1818,1189.02 1819.3,1189.07 1820.6,1188.88 1821.9,1188.8 1823.2,1188.86 1824.5,1188.55 1825.8,1188.53 1827.1,1188.39 1828.4,1188.71 1829.7,1188.4 1831,1188.46 1832.3,1188.43 1833.6,1187.72 1834.9,1187.89 1836.2,1188.14 1837.5,1187.96 1838.8,1187.26 1840.1,1187.2 1841.4,1187.45 1842.7,1187.08 1844,1187.19 1845.3,1187 1846.6,1187.5 1847.9,1187.56 1849.2,1187.63 1850.5,1186.92 1851.8,1187.39 1853.1,1187.3 1854.4,1186.79 1855.7,1187.42 1857,1187.46 1858.3,1186.75 1859.6,1187.37 1860.9,1186.83 1862.2,1186.87 1863.5,1187.28 1864.8,1187.1 1866.1,1186.46 1867.4,1186.66 1868.7,1186.69 1870,1186.49 1871.3,1186.32 1872.6,1186.39 1873.9,1186.71 1875.2,1186.04 1876.5,1186.48 1877.8,1186.33 1879.1,1185.91 1880.4,1186.15 1881.7,1186.37 1883,1186.23 1884.3,1185.79 1885.6,1186.57 1886.9,1186.36 1888.2,1186.48 1889.5,1185.66 1890.8,1185.71 1892.1,1185.39 1893.4,1185.94 1894.7,1185.37 1896,1185.13 1897.3,1185.28 1898.6,1185.6 1899.9,1185.41 1901.2,1184.79 1902.5,1184.58 1903.8,1185.15 1905.1,1184.73 1906.4,1184.73 1907.7,1184.06 1909,1183.92 1910.3,1184.37 1911.6,1184.02 1912.9,1183.59 1914.2,1184.26 1915.5,1183.82 1916.8,1183.75 1918.1,1182.88 1919.4,1183.35 1920.7,1182.41 1922,1182.91 1923.3,1182.32 1924.6,1181.99 1925.9,1181.96 1927.2,1182.07 1928.5,1180.19 1929.8,1180.67 1931.1,1183.49 1932.4,1182.7 1933.7,1182.05 1935,1181.56 1936.3,1180.92 1937.6,1180.52 1938.9,1180.22 1940.2,1179.96 1941.5,1180.12 1942.8,1179.45 1944.1,1179.39 1945.4,1178.86 1946.7,1178.76 1948,1178.22 1949.3,1178.18 1950.6,1177.72 1951.9,1178.12 1953.2,1177.7 1953.5,1177.6" fill="none" stroke="#fa8e8e" stroke-width="3.0" stroke-linejoin="round" stroke-linecap="butt" />
<rect x="1459.4" y="1052" width="494.1" height="384.6" fill="none" stroke="#000" stroke-width="2.1"/>
<line x1="1459.4" y1="1111.7" x2="1452.9" y2="1111.7" stroke="#000" stroke-width="1.7" />
<line x1="1459.4" y1="1178.1" x2="1452.9" y2="1178.1" stroke="#000" stroke-width="1.7" />
<line x1="1459.4" y1="1244.5" x2="1452.9" y2="1244.5" stroke="#000" stroke-width="1.7" />
<line x1="1459.4" y1="1310.9" x2="1452.9" y2="1310.9" stroke="#000" stroke-width="1.7" />
<line x1="1459.4" y1="1377.3" x2="1452.9" y2="1377.3" stroke="#000" stroke-width="1.7" />
<line x1="1459.4" y1="1078.5" x2="1455.6" y2="1078.5" stroke="#000" stroke-width="1.7" />
<line x1="1459.4" y1="1144.9" x2="1455.6" y2="1144.9" stroke="#000" stroke-width="1.7" />
<line x1="1459.4" y1="1211.3" x2="1455.6" y2="1211.3" stroke="#000" stroke-width="1.7" />
<line x1="1459.4" y1="1277.7" x2="1455.6" y2="1277.7" stroke="#000" stroke-width="1.7" />
<line x1="1459.4" y1="1344.1" x2="1455.6" y2="1344.1" stroke="#000" stroke-width="1.7" />
<line x1="1459.4" y1="1410.5" x2="1455.6" y2="1410.5" stroke="#000" stroke-width="1.7" />
<line x1="1459.4" y1="1436.6" x2="1459.4" y2="1443.1" stroke="#000" stroke-width="1.7" />
<line x1="1541.75" y1="1436.6" x2="1541.75" y2="1443.1" stroke="#000" stroke-width="1.7" />
<line x1="1624.1" y1="1436.6" x2="1624.1" y2="1443.1" stroke="#000" stroke-width="1.7" />
<line x1="1706.45" y1="1436.6" x2="1706.45" y2="1443.1" stroke="#000" stroke-width="1.7" />
<line x1="1788.8" y1="1436.6" x2="1788.8" y2="1443.1" stroke="#000" stroke-width="1.7" />
<line x1="1871.15" y1="1436.6" x2="1871.15" y2="1443.1" stroke="#000" stroke-width="1.7" />
<line x1="1953.5" y1="1436.6" x2="1953.5" y2="1443.1" stroke="#000" stroke-width="1.7" />
<line x1="1500.58" y1="1436.6" x2="1500.58" y2="1440.4" stroke="#000" stroke-width="1.7" />
<line x1="1582.93" y1="1436.6" x2="1582.93" y2="1440.4" stroke="#000" stroke-width="1.7" />
<line x1="1665.28" y1="1436.6" x2="1665.28" y2="1440.4" stroke="#000" stroke-width="1.7" />
<line x1="1747.62" y1="1436.6" x2="1747.62" y2="1440.4" stroke="#000" stroke-width="1.7" />
<line x1="1829.98" y1="1436.6" x2="1829.98" y2="1440.4" stroke="#000" stroke-width="1.7" />
<line x1="1912.33" y1="1436.6" x2="1912.33" y2="1440.4" stroke="#000" stroke-width="1.7" />
<text transform="translate(1446 1121.1)" font-size="30.8" text-anchor="end" fill="#000" stroke="#000" stroke-width="0.45" >2.5</text>
<text transform="translate(1446 1187.5)" font-size="30.8" text-anchor="end" fill="#000" stroke="#000" stroke-width="0.45" >2.0</text>
<text transform="translate(1446 1253.9)" font-size="30.8" text-anchor="end" fill="#000" stroke="#000" stroke-width="0.45" >1.5</text>
<text transform="translate(1446 1320.3)" font-size="30.8" text-anchor="end" fill="#000" stroke="#000" stroke-width="0.45" >1.0</text>
<text transform="translate(1446 1386.7)" font-size="30.8" text-anchor="end" fill="#000" stroke="#000" stroke-width="0.45" >0.5</text>
<text transform="translate(1459.4 1473)" font-size="30.8" text-anchor="middle" fill="#000" stroke="#000" stroke-width="0.45" >0</text>
<text transform="translate(1541.75 1473)" font-size="30.8" text-anchor="middle" fill="#000" stroke="#000" stroke-width="0.45" >20</text>
<text transform="translate(1624.1 1473)" font-size="30.8" text-anchor="middle" fill="#000" stroke="#000" stroke-width="0.45" >40</text>
<text transform="translate(1706.45 1473)" font-size="30.8" text-anchor="middle" fill="#000" stroke="#000" stroke-width="0.45" >60</text>
<text transform="translate(1788.8 1473)" font-size="30.8" text-anchor="middle" fill="#000" stroke="#000" stroke-width="0.45" >80</text>
<text transform="translate(1871.15 1473)" font-size="30.8" text-anchor="middle" fill="#000" stroke="#000" stroke-width="0.45" >100</text>
<text transform="translate(1953.5 1473)" font-size="30.8" text-anchor="middle" fill="#000" stroke="#000" stroke-width="0.45" >120</text>
<text transform="translate(1700 1518) scale(1.012 1)" font-size="31.7" text-anchor="middle" fill="#000" stroke="#000" stroke-width="0.45" >Time (h)</text>
<text transform="translate(1372.5 1254.5) rotate(-90) scale(1.012 1)" font-size="31.7" text-anchor="middle" fill="#000" stroke="#000" stroke-width="0.45" >Cell voltage (V)</text>
<text x="1344.5" y="1083.7" font-size="57.5" fill="#000" stroke="#000" stroke-width="0.65">h</text>
<text transform="translate(1469.5 1089.2) scale(1.012 1)" font-size="31.7" text-anchor="start" fill="#000" stroke="#000" stroke-width="0.45" >Chlor-alkali electrolysis, 90 ºC</text>
<text transform="translate(1469.3 1135.9) scale(1.012 1)" font-size="31.7" text-anchor="start" fill="#000" stroke="#000" stroke-width="0.45" >RuNi/NC ǁ RuO<tspan font-size="22" dy="8">2</tspan><tspan dy="-8" font-size="1">&#8203;</tspan>@10 mA cm<tspan font-size="22" dy="-11.7">−2</tspan><tspan dy="11.7" font-size="1">&#8203;</tspan></text>
</g>
</svg>
</body></html>
